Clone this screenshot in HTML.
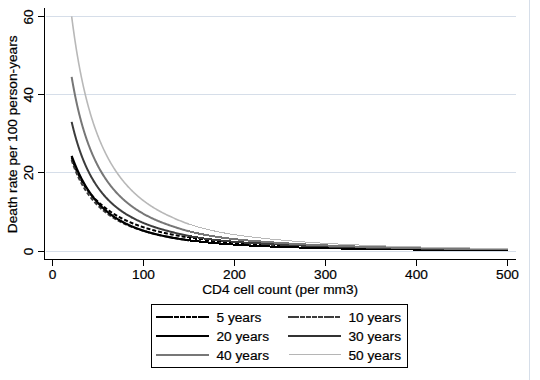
<!DOCTYPE html>
<html><head><meta charset="utf-8">
<style>
html,body{margin:0;padding:0;background:#fff;}
body{width:540px;height:380px;overflow:hidden;position:relative;}
svg{position:absolute;left:0;top:0;}
text{font-family:"Liberation Sans",sans-serif;font-size:13.7px;fill:#000;stroke:#000;stroke-width:0.2px;}
</style></head><body>
<svg width="540" height="380" viewBox="0 0 540 380">
<rect x="0" y="0" width="540" height="380" fill="#ffffff"/>
<!-- right border line -->
<rect x="529" y="0" width="1" height="380" fill="#d6dee9"/>
<!-- gridlines -->
<g fill="#d6dee9">
<rect x="46" y="16" width="470" height="1"/>
<rect x="46" y="94" width="470" height="1"/>
<rect x="46" y="172" width="470" height="1"/>
<rect x="46" y="251" width="470" height="1"/>
</g>
<!-- curves -->
<g shape-rendering="auto">
<path d="M70.70,157.66 L70.82,158.04 L70.95,158.42 L71.07,158.81 L71.20,159.19 L71.32,159.57 L71.45,159.95 L71.58,160.34 L71.71,160.72 L71.84,161.10 L71.97,161.48 L73.86,160.83 L73.73,160.45 L73.60,160.07 L73.47,159.70 L73.35,159.32 L73.22,158.94 L73.10,158.57 L72.97,158.19 L72.85,157.81 L72.73,157.43 L72.61,157.05Z M72.64,163.38 L72.78,163.76 L72.92,164.14 L73.06,164.51 L73.20,164.89 L73.34,165.27 L73.48,165.64 L73.63,166.02 L73.77,166.40 L73.92,166.77 L74.07,167.15 L75.93,166.41 L75.78,166.04 L75.64,165.67 L75.49,165.30 L75.35,164.93 L75.21,164.56 L75.07,164.19 L74.93,163.82 L74.79,163.44 L74.66,163.07 L74.52,162.70Z M74.83,169.02 L74.98,169.39 L75.14,169.76 L75.29,170.13 L75.45,170.50 L75.61,170.87 L75.77,171.24 L75.94,171.61 L76.10,171.98 L76.26,172.35 L76.43,172.71 L78.25,171.89 L78.09,171.53 L77.93,171.16 L77.77,170.80 L77.61,170.44 L77.45,170.08 L77.29,169.71 L77.13,169.35 L76.98,168.98 L76.82,168.62 L76.67,168.25Z M77.28,174.55 L77.45,174.91 L77.63,175.27 L77.81,175.64 L77.98,176.00 L78.16,176.36 L78.34,176.72 L78.52,177.08 L78.71,177.44 L78.89,177.80 L79.08,178.16 L80.85,177.24 L80.67,176.88 L80.49,176.53 L80.31,176.18 L80.13,175.82 L79.95,175.47 L79.78,175.11 L79.60,174.76 L79.43,174.40 L79.26,174.04 L79.09,173.68Z M80.03,179.94 L80.22,180.29 L80.42,180.65 L80.61,181.00 L80.81,181.35 L81.01,181.70 L81.21,182.06 L81.41,182.40 L81.62,182.75 L81.82,183.10 L82.03,183.45 L83.75,182.43 L83.54,182.08 L83.34,181.74 L83.14,181.40 L82.94,181.06 L82.75,180.71 L82.55,180.37 L82.36,180.02 L82.16,179.68 L81.97,179.33 L81.78,178.98Z M83.08,185.18 L83.30,185.52 L83.51,185.86 L83.73,186.20 L83.95,186.54 L84.17,186.88 L84.39,187.21 L84.61,187.55 L84.84,187.89 L85.06,188.22 L85.29,188.55 L86.94,187.43 L86.72,187.10 L86.50,186.77 L86.28,186.44 L86.06,186.11 L85.84,185.78 L85.63,185.45 L85.41,185.12 L85.20,184.78 L84.99,184.45 L84.78,184.11Z M86.45,190.21 L86.69,190.54 L86.93,190.87 L87.16,191.19 L87.41,191.52 L87.65,191.84 L87.89,192.17 L88.14,192.49 L88.39,192.81 L88.63,193.13 L88.88,193.44 L90.46,192.21 L90.21,191.89 L89.97,191.58 L89.73,191.27 L89.49,190.96 L89.25,190.64 L89.01,190.32 L88.78,190.01 L88.54,189.69 L88.31,189.37 L88.08,189.04Z M90.16,195.02 L90.42,195.33 L90.69,195.64 L90.95,195.94 L91.22,196.25 L91.48,196.56 L91.75,196.86 L92.02,197.16 L92.29,197.46 L92.57,197.76 L92.84,198.06 L94.31,196.70 L94.04,196.41 L93.77,196.12 L93.51,195.82 L93.25,195.53 L92.98,195.23 L92.72,194.94 L92.47,194.64 L92.21,194.34 L91.95,194.04 L91.70,193.73Z M94.24,199.53 L94.52,199.82 L94.81,200.10 L95.09,200.39 L95.38,200.67 L95.67,200.96 L95.96,201.24 L96.25,201.52 L96.54,201.80 L96.84,202.08 L97.13,202.35 L98.50,200.89 L98.21,200.62 L97.92,200.35 L97.63,200.07 L97.35,199.80 L97.07,199.53 L96.78,199.25 L96.50,198.97 L96.22,198.69 L95.94,198.41 L95.67,198.13Z M98.63,203.72 L98.93,203.98 L99.23,204.25 L99.54,204.52 L99.84,204.78 L100.15,205.04 L100.45,205.31 L100.76,205.57 L101.07,205.83 L101.38,206.09 L101.69,206.34 L102.97,204.80 L102.66,204.55 L102.36,204.30 L102.05,204.04 L101.75,203.78 L101.45,203.53 L101.15,203.27 L100.85,203.01 L100.55,202.75 L100.25,202.49 L99.96,202.22Z M103.26,207.62 L103.57,207.87 L103.89,208.12 L104.20,208.37 L104.52,208.62 L104.84,208.86 L105.16,209.11 L105.48,209.36 L105.80,209.60 L106.13,209.84 L106.45,210.08 L107.64,208.48 L107.32,208.24 L107.01,208.00 L106.69,207.76 L106.38,207.52 L106.06,207.28 L105.75,207.04 L105.44,206.79 L105.13,206.55 L104.81,206.30 L104.50,206.05Z M108.09,211.27 L108.42,211.50 L108.75,211.73 L109.08,211.96 L109.41,212.19 L109.75,212.42 L110.08,212.65 L110.42,212.87 L110.75,213.10 L111.09,213.32 L111.43,213.54 L112.52,211.86 L112.19,211.64 L111.86,211.43 L111.53,211.21 L111.20,210.99 L110.87,210.77 L110.54,210.54 L110.22,210.32 L109.89,210.09 L109.57,209.87 L109.24,209.64Z M113.13,214.62 L113.48,214.84 L113.82,215.05 L114.16,215.26 L114.51,215.47 L114.86,215.68 L115.20,215.88 L115.55,216.09 L115.90,216.29 L116.25,216.49 L116.60,216.69 L117.59,214.96 L117.25,214.76 L116.91,214.56 L116.56,214.36 L116.22,214.16 L115.88,213.96 L115.54,213.75 L115.20,213.55 L114.86,213.34 L114.53,213.13 L114.19,212.92Z M118.36,217.68 L118.71,217.88 L119.06,218.07 L119.42,218.26 L119.78,218.45 L120.13,218.64 L120.49,218.83 L120.85,219.01 L121.20,219.20 L121.56,219.38 L121.92,219.56 L122.83,217.78 L122.47,217.60 L122.12,217.42 L121.77,217.24 L121.42,217.06 L121.07,216.87 L120.71,216.68 L120.36,216.50 L120.02,216.31 L119.67,216.12 L119.32,215.93Z M123.73,220.46 L124.09,220.64 L124.46,220.81 L124.82,220.99 L125.18,221.16 L125.55,221.33 L125.91,221.50 L126.28,221.67 L126.65,221.84 L127.01,222.00 L127.38,222.17 L128.20,220.35 L127.84,220.18 L127.48,220.02 L127.12,219.85 L126.75,219.69 L126.40,219.52 L126.04,219.35 L125.68,219.18 L125.32,219.01 L124.96,218.84 L124.60,218.66Z M129.22,222.98 L129.59,223.14 L129.96,223.30 L130.33,223.46 L130.71,223.61 L131.08,223.77 L131.45,223.92 L131.82,224.07 L132.20,224.23 L132.57,224.38 L132.94,224.53 L133.69,222.67 L133.32,222.52 L132.95,222.37 L132.58,222.22 L132.21,222.07 L131.85,221.92 L131.48,221.77 L131.11,221.61 L130.75,221.46 L130.38,221.30 L130.01,221.14Z M134.82,225.26 L135.19,225.41 L135.57,225.55 L135.95,225.69 L136.32,225.83 L136.70,225.97 L137.08,226.11 L137.46,226.25 L137.83,226.39 L138.21,226.52 L138.59,226.66 L139.26,224.78 L138.89,224.64 L138.51,224.51 L138.14,224.37 L137.77,224.23 L137.39,224.10 L137.02,223.96 L136.65,223.82 L136.28,223.68 L135.91,223.54 L135.53,223.39Z M140.49,227.32 L140.87,227.45 L141.25,227.58 L141.63,227.71 L142.01,227.84 L142.40,227.97 L142.78,228.09 L143.16,228.22 L143.54,228.34 L143.92,228.47 L144.31,228.59 L144.92,226.68 L144.54,226.56 L144.16,226.44 L143.78,226.32 L143.40,226.19 L143.02,226.07 L142.65,225.94 L142.27,225.82 L141.89,225.69 L141.52,225.56 L141.14,225.43Z M146.23,229.19 L146.61,229.31 L146.99,229.42 L147.38,229.54 L147.76,229.66 L148.15,229.77 L148.53,229.89 L148.92,230.00 L149.31,230.11 L149.69,230.22 L150.08,230.33 L150.63,228.41 L150.25,228.30 L149.86,228.19 L149.48,228.08 L149.10,227.97 L148.72,227.85 L148.34,227.74 L147.96,227.63 L147.58,227.51 L147.19,227.39 L146.81,227.28Z M152.01,230.88 L152.40,230.99 L152.79,231.09 L153.17,231.20 L153.56,231.30 L153.95,231.41 L154.34,231.51 L154.73,231.61 L155.12,231.71 L155.50,231.82 L155.89,231.92 L156.39,229.98 L156.01,229.88 L155.62,229.78 L155.24,229.68 L154.85,229.58 L154.47,229.47 L154.08,229.37 L153.70,229.27 L153.31,229.16 L152.93,229.06 L152.55,228.95Z M157.84,232.41 L158.23,232.51 L158.62,232.60 L159.01,232.70 L159.40,232.79 L159.79,232.89 L160.18,232.98 L160.57,233.08 L160.96,233.17 L161.35,233.26 L161.74,233.35 L162.20,231.40 L161.81,231.31 L161.42,231.22 L161.03,231.13 L160.65,231.04 L160.26,230.94 L159.87,230.85 L159.48,230.76 L159.10,230.66 L158.71,230.57 L158.32,230.47Z M163.70,233.80 L164.09,233.89 L164.48,233.98 L164.88,234.06 L165.27,234.15 L165.66,234.24 L166.05,234.32 L166.44,234.40 L166.84,234.49 L167.23,234.57 L167.62,234.66 L168.04,232.70 L167.64,232.62 L167.25,232.53 L166.87,232.45 L166.47,232.37 L166.09,232.28 L165.70,232.20 L165.31,232.11 L164.92,232.02 L164.53,231.94 L164.14,231.85Z M169.59,235.06 L169.98,235.14 L170.37,235.22 L170.77,235.30 L171.16,235.38 L171.55,235.46 L171.95,235.54 L172.34,235.62 L172.73,235.69 L173.13,235.77 L173.52,235.85 L173.90,233.88 L173.51,233.81 L173.12,233.73 L172.72,233.65 L172.33,233.58 L171.94,233.50 L171.55,233.42 L171.16,233.34 L170.77,233.26 L170.38,233.18 L169.99,233.10Z M175.49,236.22 L175.88,236.30 L176.28,236.37 L176.67,236.44 L177.07,236.52 L177.46,236.59 L177.85,236.66 L178.25,236.73 L178.64,236.80 L179.04,236.87 L179.43,236.94 L179.78,234.98 L179.39,234.90 L179.00,234.83 L178.61,234.76 L178.21,234.69 L177.82,234.62 L177.43,234.55 L177.04,234.48 L176.64,234.40 L176.25,234.33 L175.86,234.26Z M181.41,237.29 L181.80,237.36 L182.20,237.43 L182.59,237.50 L182.99,237.56 L183.38,237.63 L183.78,237.70 L184.17,237.76 L184.57,237.83 L184.96,237.89 L185.36,237.96 L185.69,235.99 L185.29,235.92 L184.90,235.86 L184.50,235.79 L184.11,235.72 L183.72,235.66 L183.32,235.59 L182.93,235.52 L182.54,235.46 L182.14,235.39 L181.75,235.32Z" fill="#000000" stroke="none"/>
<path d="M187.34,238.28 L187.73,238.35 L188.13,238.41 L188.52,238.47 L188.92,238.53 L189.32,238.60 L189.71,238.66 L190.11,238.72 L190.50,238.78 L190.90,238.84 L191.30,238.90 L191.60,236.93 L191.20,236.87 L190.81,236.81 L190.42,236.74 L190.02,236.68 L189.63,236.62 L189.23,236.56 L188.84,236.50 L188.44,236.43 L188.05,236.37 L187.66,236.31Z M193.28,239.20 L193.67,239.26 L194.07,239.32 L194.47,239.38 L194.86,239.44 L195.26,239.49 L195.66,239.55 L196.05,239.61 L196.45,239.67 L196.85,239.72 L197.24,239.78 L197.52,237.80 L197.13,237.74 L196.73,237.69 L196.34,237.63 L195.94,237.57 L195.55,237.52 L195.15,237.46 L194.76,237.40 L194.36,237.34 L193.97,237.28 L193.57,237.22Z M199.23,240.06 L199.62,240.11 L200.02,240.17 L200.42,240.22 L200.82,240.27 L201.21,240.33 L201.61,240.38 L202.01,240.44 L202.40,240.49 L202.80,240.54 L203.20,240.59 L203.46,238.61 L203.06,238.56 L202.67,238.51 L202.27,238.45 L201.88,238.40 L201.48,238.35 L201.08,238.29 L200.69,238.24 L200.29,238.19 L199.90,238.13 L199.50,238.08Z M205.19,240.85 L205.58,240.90 L205.98,240.95 L206.38,241.00 L206.77,241.05 L207.17,241.10 L207.57,241.15 L207.97,241.20 L208.36,241.25 L208.76,241.30 L209.16,241.35 L209.40,239.36 L209.00,239.31 L208.61,239.26 L208.21,239.22 L207.82,239.17 L207.42,239.12 L207.02,239.07 L206.63,239.02 L206.23,238.97 L205.83,238.92 L205.44,238.87Z M211.15,241.58 L211.55,241.63 L211.95,241.68 L212.34,241.72 L212.74,241.77 L213.14,241.82 L213.54,241.86 L213.94,241.91 L214.33,241.95 L214.73,242.00 L215.13,242.04 L215.35,240.05 L214.95,240.01 L214.56,239.97 L214.16,239.92 L213.76,239.88 L213.37,239.83 L212.97,239.78 L212.57,239.74 L212.18,239.69 L211.78,239.65 L211.38,239.60Z M217.12,242.26 L217.52,242.30 L217.92,242.35 L218.32,242.39 L218.71,242.43 L219.11,242.48 L219.51,242.52 L219.91,242.56 L220.31,242.60 L220.71,242.64 L221.10,242.68 L221.31,240.69 L220.91,240.65 L220.51,240.61 L220.12,240.57 L219.72,240.53 L219.32,240.49 L218.93,240.44 L218.53,240.40 L218.13,240.36 L217.73,240.32 L217.34,240.27Z M223.10,242.88 L223.50,242.92 L223.89,242.96 L224.29,243.00 L224.69,243.04 L225.09,243.08 L225.49,243.12 L225.89,243.16 L226.29,243.19 L226.69,243.23 L227.08,243.27 L227.27,241.28 L226.87,241.24 L226.48,241.20 L226.08,241.16 L225.68,241.13 L225.28,241.09 L224.89,241.05 L224.49,241.01 L224.09,240.97 L223.69,240.93 L223.30,240.89Z M229.08,243.45 L229.48,243.49 L229.88,243.52 L230.28,243.56 L230.68,243.59 L231.07,243.63 L231.47,243.66 L231.87,243.70 L232.27,243.73 L232.67,243.77 L233.07,243.80 L233.24,241.81 L232.84,241.77 L232.44,241.74 L232.04,241.71 L231.65,241.67 L231.25,241.64 L230.85,241.60 L230.45,241.57 L230.05,241.53 L229.66,241.50 L229.26,241.46Z M235.07,243.97 L235.47,244.00 L235.86,244.03 L236.26,244.06 L236.66,244.10 L237.06,244.13 L237.46,244.16 L237.86,244.19 L238.26,244.22 L238.66,244.25 L239.06,244.28 L239.21,242.29 L238.81,242.26 L238.41,242.23 L238.02,242.20 L237.62,242.16 L237.22,242.13 L236.82,242.10 L236.42,242.07 L236.03,242.04 L235.63,242.01 L235.23,241.97Z M241.06,244.43 L241.45,244.46 L241.85,244.49 L242.25,244.52 L242.65,244.55 L243.05,244.58 L243.45,244.61 L243.85,244.64 L244.25,244.66 L244.65,244.69 L245.05,244.72 L245.19,242.73 L244.79,242.70 L244.39,242.67 L243.99,242.64 L243.59,242.61 L243.20,242.58 L242.80,242.55 L242.40,242.53 L242.00,242.50 L241.60,242.47 L241.20,242.44Z M247.05,244.86 L247.44,244.89 L247.84,244.91 L248.24,244.94 L248.64,244.97 L249.04,245.00 L249.44,245.02 L249.84,245.05 L250.24,245.08 L250.64,245.10 L251.04,245.13 L251.17,243.13 L250.77,243.11 L250.37,243.08 L249.97,243.05 L249.58,243.03 L249.18,243.00 L248.78,242.97 L248.38,242.95 L247.98,242.92 L247.58,242.89 L247.18,242.86Z M253.04,245.26 L253.44,245.28 L253.84,245.31 L254.24,245.33 L254.63,245.36 L255.03,245.38 L255.43,245.41 L255.83,245.43 L256.23,245.46 L256.63,245.48 L257.03,245.51 L257.15,243.51 L256.75,243.49 L256.36,243.46 L255.96,243.44 L255.56,243.41 L255.16,243.39 L254.76,243.36 L254.36,243.34 L253.96,243.31 L253.56,243.29 L253.16,243.26Z M259.03,245.63 L259.43,245.65 L259.83,245.67 L260.23,245.70 L260.63,245.72 L261.03,245.74 L261.43,245.77 L261.83,245.79 L262.23,245.81 L262.63,245.84 L263.03,245.86 L263.14,243.86 L262.74,243.84 L262.34,243.82 L261.94,243.79 L261.54,243.77 L261.14,243.75 L260.75,243.72 L260.35,243.70 L259.95,243.68 L259.55,243.65 L259.15,243.63Z M265.02,245.97 L265.42,245.99 L265.82,246.02 L266.22,246.04 L266.62,246.06 L267.02,246.08 L267.42,246.10 L267.82,246.12 L268.22,246.15 L268.62,246.17 L269.02,246.19 L269.13,244.19 L268.73,244.17 L268.33,244.15 L267.93,244.13 L267.53,244.11 L267.13,244.08 L266.73,244.06 L266.33,244.04 L265.93,244.02 L265.53,244.00 L265.14,243.98Z M271.02,246.29 L271.42,246.31 L271.82,246.33 L272.22,246.36 L272.62,246.38 L273.02,246.40 L273.42,246.42 L273.82,246.44 L274.22,246.46 L274.62,246.48 L275.02,246.50 L275.12,244.50 L274.72,244.48 L274.32,244.46 L273.92,244.44 L273.52,244.42 L273.12,244.40 L272.72,244.38 L272.32,244.36 L271.92,244.34 L271.52,244.32 L271.12,244.30Z M277.02,246.59 L277.41,246.61 L277.81,246.63 L278.21,246.65 L278.61,246.67 L279.01,246.69 L279.41,246.71 L279.81,246.73 L280.21,246.75 L280.61,246.76 L281.01,246.78 L281.11,244.79 L280.71,244.77 L280.31,244.75 L279.91,244.73 L279.51,244.71 L279.11,244.69 L278.71,244.67 L278.31,244.65 L277.91,244.63 L277.51,244.62 L277.11,244.60Z M283.01,246.87 L283.41,246.89 L283.81,246.91 L284.21,246.93 L284.61,246.95 L285.01,246.96 L285.41,246.98 L285.81,247.00 L286.21,247.02 L286.61,247.03 L287.01,247.05 L287.10,245.05 L286.70,245.04 L286.30,245.02 L285.90,245.00 L285.50,244.98 L285.10,244.97 L284.70,244.95 L284.30,244.93 L283.90,244.91 L283.50,244.89 L283.10,244.88Z M289.01,247.14 L289.41,247.15 L289.81,247.17 L290.21,247.19 L290.61,247.20 L291.01,247.22 L291.41,247.24 L291.81,247.25 L292.21,247.27 L292.61,247.29 L293.01,247.30 L293.09,245.31 L292.69,245.29 L292.29,245.27 L291.89,245.26 L291.49,245.24 L291.09,245.22 L290.69,245.21 L290.29,245.19 L289.89,245.17 L289.49,245.16 L289.09,245.14Z M295.01,247.38 L295.41,247.40 L295.81,247.42 L296.21,247.43 L296.61,247.45 L297.01,247.46 L297.41,247.48 L297.81,247.49 L298.21,247.51 L298.61,247.52 L299.00,247.54 L299.08,245.54 L298.68,245.53 L298.28,245.51 L297.88,245.49 L297.48,245.48 L297.08,245.46 L296.68,245.45 L296.28,245.43 L295.88,245.42 L295.49,245.40 L295.09,245.39Z M301.00,247.61 L301.40,247.63 L301.80,247.64 L302.20,247.66 L302.60,247.67 L303.00,247.69 L303.40,247.70 L303.80,247.72 L304.20,247.73 L304.60,247.75 L305.00,247.76 L305.07,245.76 L304.68,245.75 L304.28,245.73 L303.88,245.72 L303.48,245.70 L303.08,245.69 L302.68,245.67 L302.28,245.66 L301.88,245.65 L301.48,245.63 L301.08,245.62Z M307.00,247.83 L307.40,247.84 L307.80,247.86 L308.20,247.87 L308.60,247.89 L309.00,247.90 L309.40,247.91 L309.80,247.93 L310.20,247.94 L310.60,247.95 L311.00,247.97 L311.07,245.97 L310.67,245.96 L310.27,245.94 L309.87,245.93 L309.47,245.92 L309.07,245.90 L308.67,245.89 L308.27,245.87 L307.87,245.86 L307.47,245.85 L307.07,245.83Z M313.00,248.03 L313.40,248.05 L313.80,248.06 L314.20,248.07 L314.60,248.09 L315.00,248.10 L315.40,248.11 L315.80,248.13 L316.20,248.14 L316.60,248.15 L317.00,248.16 L317.06,246.16 L316.66,246.15 L316.26,246.14 L315.86,246.13 L315.47,246.11 L315.07,246.10 L314.67,246.09 L314.27,246.07 L313.87,246.06 L313.47,246.05 L313.07,246.04Z M319.00,248.23 L319.40,248.24 L319.80,248.25 L320.20,248.26 L320.60,248.27 L321.00,248.29 L321.40,248.30 L321.80,248.31 L322.20,248.32 L322.60,248.33 L323.00,248.35 L323.06,246.35 L322.66,246.34 L322.26,246.32 L321.86,246.31 L321.46,246.30 L321.06,246.29 L320.66,246.28 L320.26,246.26 L319.86,246.25 L319.46,246.24 L319.06,246.23Z M325.00,248.41 L325.40,248.42 L325.80,248.43 L326.20,248.44 L326.60,248.45 L327.00,248.46 L327.40,248.47 L327.80,248.49 L328.20,248.50 L328.60,248.51 L329.00,248.52 L329.05,246.52 L328.66,246.51 L328.26,246.50 L327.86,246.49 L327.46,246.48 L327.06,246.46 L326.66,246.45 L326.26,246.44 L325.86,246.43 L325.46,246.42 L325.06,246.41Z M331.00,248.58 L331.40,248.59 L331.80,248.60 L332.20,248.61 L332.60,248.62 L333.00,248.63 L333.40,248.64 L333.80,248.65 L334.20,248.66 L334.60,248.67 L335.00,248.68 L335.05,246.68 L334.65,246.67 L334.25,246.66 L333.85,246.65 L333.45,246.64 L333.05,246.63 L332.65,246.62 L332.25,246.61 L331.85,246.60 L331.45,246.59 L331.05,246.58Z M337.00,248.73 L337.40,248.75 L337.80,248.76 L338.20,248.77 L338.60,248.78 L339.00,248.79 L339.40,248.80 L339.80,248.81 L340.20,248.82 L340.60,248.83 L341.00,248.84 L341.05,246.84 L340.65,246.83 L340.25,246.82 L339.85,246.81 L339.45,246.80 L339.05,246.79 L338.65,246.78 L338.25,246.77 L337.85,246.76 L337.45,246.75 L337.05,246.74Z M343.00,248.89 L343.40,248.89 L343.80,248.90 L344.20,248.91 L344.60,248.92 L345.00,248.93 L345.40,248.94 L345.80,248.95 L346.20,248.96 L346.60,248.97 L347.00,248.98 L347.04,246.98 L346.64,246.97 L346.24,246.96 L345.85,246.95 L345.45,246.94 L345.05,246.93 L344.65,246.92 L344.25,246.91 L343.85,246.91 L343.45,246.90 L343.05,246.89Z M349.00,249.03 L349.40,249.04 L349.80,249.05 L350.20,249.05 L350.60,249.06 L351.00,249.07 L351.40,249.08 L351.80,249.09 L352.20,249.10 L352.60,249.11 L353.00,249.12 L353.04,247.12 L352.64,247.11 L352.24,247.10 L351.84,247.09 L351.44,247.08 L351.04,247.07 L350.64,247.06 L350.24,247.06 L349.84,247.05 L349.44,247.04 L349.04,247.03Z M355.00,249.16 L355.40,249.17 L355.80,249.18 L356.20,249.19 L356.60,249.20 L357.00,249.20 L357.40,249.21 L357.80,249.22 L358.20,249.23 L358.60,249.24 L359.00,249.25 L359.04,247.25 L358.64,247.24 L358.24,247.23 L357.84,247.22 L357.44,247.21 L357.04,247.21 L356.64,247.20 L356.24,247.19 L355.84,247.18 L355.44,247.17 L355.04,247.16Z M361.00,249.29 L361.40,249.30 L361.80,249.30 L362.20,249.31 L362.60,249.32 L363.00,249.33 L363.40,249.34 L363.80,249.35 L364.20,249.35 L364.60,249.36 L365.00,249.37 L365.04,247.37 L364.64,247.36 L364.24,247.35 L363.84,247.35 L363.44,247.34 L363.04,247.33 L362.64,247.32 L362.24,247.31 L361.84,247.31 L361.44,247.30 L361.04,247.29Z M367.00,249.41 L367.40,249.42 L367.80,249.42 L368.20,249.43 L368.60,249.44 L369.00,249.45 L369.40,249.45 L369.80,249.46 L370.20,249.47 L370.60,249.48 L371.00,249.48 L371.03,247.48 L370.63,247.48 L370.23,247.47 L369.83,247.46 L369.43,247.45 L369.04,247.45 L368.64,247.44 L368.24,247.43 L367.84,247.42 L367.44,247.42 L367.04,247.41Z M373.00,249.52 L373.40,249.53 L373.80,249.54 L374.20,249.54 L374.60,249.55 L375.00,249.56 L375.40,249.57 L375.80,249.57 L376.20,249.58 L376.60,249.59 L377.00,249.59 L377.03,247.59 L376.63,247.59 L376.23,247.58 L375.83,247.57 L375.43,247.57 L375.03,247.56 L374.63,247.55 L374.23,247.54 L373.83,247.54 L373.43,247.53 L373.03,247.52Z M379.00,249.63 L379.40,249.64 L379.80,249.64 L380.20,249.65 L380.60,249.66 L381.00,249.66 L381.40,249.67 L381.80,249.68 L382.20,249.68 L382.60,249.69 L383.00,249.70 L383.03,247.70 L382.63,247.69 L382.23,247.68 L381.83,247.68 L381.43,247.67 L381.03,247.66 L380.63,247.66 L380.23,247.65 L379.83,247.64 L379.43,247.64 L379.03,247.63Z M385.00,249.73 L385.40,249.74 L385.80,249.74 L386.20,249.75 L386.60,249.76 L387.00,249.76 L387.40,249.77 L387.80,249.78 L388.20,249.78 L388.60,249.79 L389.00,249.80 L389.03,247.80 L388.63,247.79 L388.23,247.78 L387.83,247.78 L387.43,247.77 L387.03,247.76 L386.63,247.76 L386.23,247.75 L385.83,247.74 L385.43,247.74 L385.03,247.73Z M391.00,249.83 L391.40,249.83 L391.80,249.84 L392.20,249.85 L392.60,249.85 L393.00,249.86 L393.40,249.86 L393.80,249.87 L394.20,249.88 L394.60,249.88 L395.00,249.89 L395.03,247.89 L394.63,247.88 L394.23,247.88 L393.83,247.87 L393.43,247.86 L393.03,247.86 L392.63,247.85 L392.23,247.85 L391.83,247.84 L391.43,247.83 L391.03,247.83Z M397.00,249.92 L397.40,249.92 L397.80,249.93 L398.20,249.94 L398.60,249.94 L399.00,249.95 L399.40,249.95 L399.80,249.96 L400.20,249.97 L400.60,249.97 L401.00,249.98 L401.03,247.98 L400.63,247.97 L400.23,247.97 L399.83,247.96 L399.43,247.95 L399.03,247.95 L398.63,247.94 L398.23,247.94 L397.83,247.93 L397.43,247.92 L397.03,247.92Z M403.00,250.01 L403.40,250.01 L403.80,250.02 L404.20,250.02 L404.60,250.03 L405.00,250.03 L405.40,250.04 L405.80,250.04 L406.20,250.05 L406.60,250.06 L407.00,250.06 L407.02,248.06 L406.62,248.06 L406.22,248.05 L405.82,248.04 L405.43,248.04 L405.03,248.03 L404.63,248.03 L404.23,248.02 L403.83,248.02 L403.43,248.01 L403.03,248.01Z M409.00,250.09 L409.40,250.09 L409.80,250.10 L410.20,250.10 L410.60,250.11 L411.00,250.11 L411.40,250.12 L411.80,250.13 L412.20,250.13 L412.60,250.14 L413.00,250.14 L413.02,248.14 L412.62,248.14 L412.22,248.13 L411.82,248.13 L411.42,248.12 L411.02,248.11 L410.62,248.11 L410.22,248.10 L409.82,248.10 L409.42,248.09 L409.02,248.09Z M415.00,250.17 L415.40,250.17 L415.80,250.18 L416.20,250.18 L416.60,250.19 L417.00,250.19 L417.40,250.20 L417.80,250.20 L418.20,250.21 L418.60,250.21 L419.00,250.22 L419.02,248.22 L418.62,248.21 L418.22,248.21 L417.82,248.20 L417.42,248.20 L417.02,248.19 L416.62,248.19 L416.22,248.18 L415.82,248.18 L415.42,248.17 L415.02,248.17Z M421.00,250.24 L421.40,250.25 L421.80,250.25 L422.20,250.26 L422.60,250.26 L423.00,250.26 L423.40,250.27 L423.80,250.27 L424.20,250.28 L424.60,250.28 L425.00,250.29 L425.02,248.29 L424.62,248.28 L424.22,248.28 L423.82,248.27 L423.42,248.27 L423.02,248.27 L422.62,248.26 L422.22,248.26 L421.82,248.25 L421.42,248.25 L421.02,248.24Z M427.00,250.31 L427.40,250.32 L427.80,250.32 L428.20,250.33 L428.60,250.33 L429.00,250.33 L429.40,250.34 L429.80,250.34 L430.20,250.35 L430.60,250.35 L431.00,250.36 L431.02,248.36 L430.62,248.35 L430.22,248.35 L429.82,248.34 L429.42,248.34 L429.02,248.33 L428.62,248.33 L428.22,248.33 L427.82,248.32 L427.42,248.32 L427.02,248.31Z M433.00,250.38 L433.40,250.38 L433.80,250.39 L434.20,250.39 L434.60,250.40 L435.00,250.40 L435.40,250.41 L435.80,250.41 L436.20,250.41 L436.60,250.42 L437.00,250.42 L437.02,248.42 L436.62,248.42 L436.22,248.41 L435.82,248.41 L435.42,248.41 L435.02,248.40 L434.62,248.40 L434.22,248.39 L433.82,248.39 L433.42,248.38 L433.02,248.38Z M439.00,250.44 L439.40,250.45 L439.80,250.45 L440.20,250.46 L440.60,250.46 L441.00,250.46 L441.40,250.47 L441.80,250.47 L442.20,250.48 L442.60,250.48 L443.00,250.48 L443.02,248.48 L442.62,248.48 L442.22,248.48 L441.82,248.47 L441.42,248.47 L441.02,248.46 L440.62,248.46 L440.22,248.46 L439.82,248.45 L439.42,248.45 L439.02,248.44Z M445.00,250.50 L445.40,250.51 L445.80,250.51 L446.20,250.52 L446.60,250.52 L447.00,250.52 L447.40,250.53 L447.80,250.53 L448.20,250.54 L448.60,250.54 L449.00,250.54 L449.02,248.54 L448.62,248.54 L448.22,248.54 L447.82,248.53 L447.42,248.53 L447.02,248.52 L446.62,248.52 L446.22,248.52 L445.82,248.51 L445.42,248.51 L445.02,248.50Z M451.00,250.56 L451.40,250.57 L451.80,250.57 L452.20,250.57 L452.60,250.58 L453.00,250.58 L453.40,250.59 L453.80,250.59 L454.20,250.59 L454.60,250.60 L455.00,250.60 L455.02,248.60 L454.62,248.60 L454.22,248.59 L453.82,248.59 L453.42,248.59 L453.02,248.58 L452.62,248.58 L452.22,248.57 L451.82,248.57 L451.42,248.57 L451.02,248.56Z M457.00,250.62 L457.40,250.62 L457.80,250.63 L458.20,250.63 L458.60,250.63 L459.00,250.64 L459.40,250.64 L459.80,250.64 L460.20,250.65 L460.60,250.65 L461.00,250.65 L461.02,248.65 L460.62,248.65 L460.22,248.65 L459.82,248.64 L459.42,248.64 L459.02,248.64 L458.62,248.63 L458.22,248.63 L457.82,248.63 L457.42,248.62 L457.02,248.62Z M463.00,250.67 L463.40,250.67 L463.80,250.68 L464.20,250.68 L464.60,250.68 L465.00,250.69 L465.40,250.69 L465.80,250.69 L466.20,250.70 L466.60,250.70 L467.00,250.70 L467.02,248.71 L466.62,248.70 L466.22,248.70 L465.82,248.69 L465.42,248.69 L465.02,248.69 L464.62,248.68 L464.22,248.68 L463.82,248.68 L463.42,248.67 L463.02,248.67Z M469.00,250.72 L469.40,250.72 L469.80,250.73 L470.20,250.73 L470.60,250.73 L471.00,250.74 L471.40,250.74 L471.80,250.74 L472.20,250.75 L472.60,250.75 L473.00,250.75 L473.02,248.75 L472.62,248.75 L472.22,248.75 L471.82,248.74 L471.42,248.74 L471.02,248.74 L470.62,248.73 L470.22,248.73 L469.82,248.73 L469.42,248.72 L469.02,248.72Z M475.00,250.77 L475.40,250.77 L475.80,250.78 L476.20,250.78 L476.60,250.78 L477.00,250.79 L477.40,250.79 L477.80,250.79 L478.20,250.79 L478.60,250.80 L479.00,250.80 L479.01,248.80 L478.61,248.80 L478.21,248.79 L477.81,248.79 L477.41,248.79 L477.01,248.79 L476.61,248.78 L476.21,248.78 L475.82,248.78 L475.42,248.77 L475.02,248.77Z M481.00,250.82 L481.40,250.82 L481.80,250.82 L482.20,250.82 L482.60,250.83 L483.00,250.83 L483.40,250.83 L483.80,250.84 L484.20,250.84 L484.60,250.84 L485.00,250.85 L485.01,248.85 L484.61,248.84 L484.21,248.84 L483.81,248.84 L483.41,248.83 L483.01,248.83 L482.61,248.83 L482.21,248.82 L481.81,248.82 L481.41,248.82 L481.01,248.82Z M487.00,250.86 L487.40,250.86 L487.80,250.87 L488.20,250.87 L488.60,250.87 L489.00,250.87 L489.40,250.88 L489.80,250.88 L490.20,250.88 L490.60,250.89 L491.00,250.89 L491.01,248.89 L490.61,248.89 L490.21,248.88 L489.81,248.88 L489.41,248.88 L489.01,248.87 L488.61,248.87 L488.21,248.87 L487.81,248.87 L487.41,248.86 L487.01,248.86Z M493.00,250.90 L493.40,250.90 L493.80,250.91 L494.20,250.91 L494.60,250.91 L495.00,250.92 L495.40,250.92 L495.80,250.92 L496.20,250.92 L496.60,250.93 L497.00,250.93 L497.01,248.93 L496.61,248.93 L496.21,248.92 L495.81,248.92 L495.41,248.92 L495.01,248.92 L494.61,248.91 L494.21,248.91 L493.81,248.91 L493.41,248.90 L493.01,248.90Z M499.00,250.94 L499.40,250.94 L499.80,250.95 L500.20,250.95 L500.60,250.95 L501.00,250.95 L501.40,250.96 L501.80,250.96 L502.20,250.96 L502.60,250.97 L503.00,250.97 L503.01,248.97 L502.61,248.97 L502.21,248.96 L501.81,248.96 L501.41,248.96 L501.01,248.95 L500.61,248.95 L500.21,248.95 L499.81,248.95 L499.41,248.94 L499.01,248.94Z M505.00,250.98 L505.40,250.98 L505.80,250.99 L506.21,250.99 L506.61,250.99 L507.01,250.99 L507.41,251.00 L507.81,251.00 L507.83,249.00 L507.42,249.00 L507.02,248.99 L506.62,248.99 L506.22,248.99 L505.82,248.99 L505.41,248.98 L505.01,248.98Z" fill="#000000" stroke="none" shape-rendering="crispEdges"/>
<path d="M70.71,160.36 L70.83,160.74 L70.96,161.12 L71.09,161.51 L71.21,161.89 L71.34,162.27 L71.47,162.65 L71.60,163.03 L71.74,163.41 L71.87,163.79 L72.00,164.17 L73.89,163.50 L73.76,163.13 L73.63,162.75 L73.50,162.37 L73.37,162.00 L73.24,161.62 L73.11,161.25 L72.98,160.87 L72.86,160.49 L72.73,160.11 L72.61,159.74Z M72.69,166.06 L72.83,166.44 L72.97,166.82 L73.11,167.19 L73.25,167.57 L73.39,167.95 L73.54,168.32 L73.68,168.70 L73.83,169.07 L73.98,169.45 L74.12,169.82 L75.98,169.08 L75.84,168.71 L75.69,168.34 L75.55,167.97 L75.40,167.60 L75.26,167.23 L75.12,166.86 L74.98,166.49 L74.84,166.12 L74.70,165.74 L74.56,165.37Z M74.88,171.69 L75.04,172.06 L75.19,172.43 L75.35,172.80 L75.50,173.17 L75.66,173.54 L75.82,173.91 L75.98,174.28 L76.15,174.65 L76.31,175.02 L76.47,175.39 L78.30,174.57 L78.14,174.21 L77.98,173.84 L77.82,173.48 L77.66,173.12 L77.50,172.75 L77.34,172.39 L77.19,172.02 L77.03,171.66 L76.88,171.29 L76.73,170.92Z M77.31,177.22 L77.48,177.59 L77.65,177.95 L77.83,178.31 L78.00,178.68 L78.18,179.04 L78.35,179.40 L78.53,179.77 L78.71,180.13 L78.89,180.49 L79.07,180.85 L80.86,179.95 L80.68,179.59 L80.50,179.24 L80.32,178.88 L80.15,178.52 L79.98,178.17 L79.80,177.81 L79.63,177.45 L79.46,177.09 L79.29,176.74 L79.12,176.37Z M80.00,182.64 L80.19,183.00 L80.38,183.35 L80.57,183.71 L80.76,184.06 L80.95,184.42 L81.15,184.77 L81.35,185.12 L81.54,185.47 L81.74,185.82 L81.94,186.17 L83.68,185.18 L83.48,184.84 L83.29,184.49 L83.09,184.14 L82.90,183.80 L82.71,183.45 L82.52,183.10 L82.33,182.76 L82.14,182.41 L81.95,182.06 L81.77,181.71Z M82.97,187.92 L83.17,188.26 L83.38,188.61 L83.59,188.95 L83.81,189.30 L84.02,189.64 L84.23,189.98 L84.45,190.32 L84.67,190.66 L84.89,191.00 L85.11,191.34 L86.78,190.25 L86.57,189.91 L86.35,189.58 L86.14,189.25 L85.93,188.91 L85.71,188.58 L85.51,188.24 L85.30,187.90 L85.09,187.57 L84.88,187.23 L84.68,186.89Z M86.23,193.02 L86.46,193.35 L86.69,193.69 L86.92,194.02 L87.15,194.35 L87.39,194.68 L87.62,195.01 L87.86,195.33 L88.10,195.66 L88.34,195.98 L88.58,196.31 L90.18,195.11 L89.95,194.79 L89.71,194.48 L89.48,194.16 L89.25,193.83 L89.02,193.51 L88.79,193.19 L88.56,192.87 L88.33,192.54 L88.11,192.22 L87.88,191.89Z M89.81,197.92 L90.06,198.23 L90.31,198.55 L90.56,198.86 L90.82,199.18 L91.07,199.49 L91.33,199.81 L91.59,200.12 L91.85,200.43 L92.11,200.74 L92.37,201.04 L93.89,199.74 L93.63,199.44 L93.38,199.14 L93.12,198.84 L92.87,198.53 L92.62,198.23 L92.37,197.92 L92.12,197.61 L91.87,197.30 L91.63,196.99 L91.38,196.68Z M93.71,202.57 L93.97,202.87 L94.25,203.16 L94.52,203.46 L94.80,203.76 L95.07,204.06 L95.35,204.35 L95.63,204.64 L95.91,204.93 L96.19,205.22 L96.47,205.51 L97.90,204.11 L97.62,203.83 L97.35,203.54 L97.07,203.26 L96.80,202.97 L96.53,202.69 L96.26,202.40 L95.99,202.11 L95.72,201.82 L95.46,201.52 L95.19,201.23Z M97.91,206.94 L98.20,207.22 L98.50,207.50 L98.79,207.78 L99.08,208.05 L99.38,208.33 L99.68,208.60 L99.98,208.88 L100.28,209.15 L100.58,209.42 L100.88,209.68 L102.21,208.19 L101.91,207.92 L101.62,207.66 L101.32,207.39 L101.03,207.13 L100.74,206.86 L100.45,206.59 L100.16,206.32 L99.87,206.05 L99.59,205.78 L99.30,205.50Z M102.42,211.01 L102.73,211.27 L103.04,211.52 L103.35,211.78 L103.66,212.04 L103.98,212.29 L104.29,212.54 L104.61,212.80 L104.93,213.04 L105.25,213.29 L105.57,213.54 L106.79,211.95 L106.47,211.71 L106.16,211.47 L105.85,211.22 L105.54,210.98 L105.23,210.73 L104.92,210.48 L104.62,210.23 L104.31,209.98 L104.01,209.73 L103.70,209.47Z M107.19,214.75 L107.52,214.99 L107.84,215.23 L108.17,215.46 L108.50,215.69 L108.83,215.93 L109.17,216.16 L109.50,216.39 L109.83,216.61 L110.17,216.84 L110.50,217.06 L111.61,215.40 L111.28,215.18 L110.96,214.96 L110.63,214.74 L110.30,214.51 L109.98,214.29 L109.65,214.06 L109.33,213.83 L109.01,213.60 L108.69,213.37 L108.37,213.14Z M112.20,218.17 L112.54,218.38 L112.88,218.60 L113.23,218.81 L113.57,219.02 L113.92,219.23 L114.26,219.44 L114.61,219.65 L114.96,219.85 L115.31,220.06 L115.65,220.26 L116.66,218.53 L116.31,218.33 L115.97,218.13 L115.63,217.93 L115.29,217.73 L114.95,217.52 L114.62,217.32 L114.28,217.11 L113.94,216.90 L113.61,216.69 L113.27,216.48Z M117.41,221.26 L117.77,221.45 L118.12,221.65 L118.48,221.84 L118.83,222.03 L119.19,222.22 L119.54,222.41 L119.90,222.59 L120.26,222.78 L120.62,222.96 L120.98,223.14 L121.88,221.36 L121.53,221.18 L121.18,221.00 L120.82,220.82 L120.47,220.63 L120.12,220.45 L119.77,220.26 L119.42,220.08 L119.07,219.89 L118.73,219.70 L118.38,219.51Z M122.79,224.04 L123.15,224.21 L123.52,224.39 L123.88,224.56 L124.25,224.73 L124.61,224.90 L124.98,225.07 L125.35,225.24 L125.71,225.40 L126.08,225.57 L126.45,225.73 L127.26,223.90 L126.90,223.74 L126.54,223.58 L126.17,223.41 L125.81,223.25 L125.45,223.08 L125.09,222.92 L124.73,222.75 L124.37,222.58 L124.02,222.41 L123.66,222.24Z M128.30,226.53 L128.67,226.69 L129.05,226.84 L129.42,227.00 L129.79,227.15 L130.16,227.30 L130.54,227.45 L130.91,227.60 L131.29,227.75 L131.66,227.90 L132.03,228.04 L132.76,226.18 L132.39,226.04 L132.02,225.89 L131.65,225.74 L131.28,225.60 L130.91,225.45 L130.55,225.30 L130.18,225.15 L129.81,225.00 L129.45,224.84 L129.08,224.69Z M133.92,228.76 L134.30,228.90 L134.68,229.04 L135.05,229.18 L135.43,229.31 L135.81,229.45 L136.19,229.58 L136.57,229.72 L136.95,229.85 L137.33,229.98 L137.71,230.11 L138.36,228.22 L137.98,228.09 L137.61,227.96 L137.23,227.83 L136.86,227.70 L136.48,227.56 L136.11,227.43 L135.74,227.30 L135.36,227.16 L134.99,227.02 L134.62,226.88Z M139.62,230.75 L140.00,230.88 L140.39,231.00 L140.77,231.12 L141.15,231.25 L141.54,231.37 L141.92,231.49 L142.30,231.61 L142.69,231.72 L143.07,231.84 L143.46,231.96 L144.04,230.05 L143.66,229.93 L143.28,229.81 L142.90,229.70 L142.52,229.58 L142.14,229.46 L141.76,229.34 L141.38,229.22 L141.00,229.10 L140.62,228.97 L140.24,228.85Z M145.39,232.53 L145.77,232.64 L146.16,232.75 L146.55,232.86 L146.93,232.97 L147.32,233.08 L147.71,233.19 L148.09,233.30 L148.48,233.40 L148.87,233.51 L149.26,233.61 L149.78,231.68 L149.39,231.58 L149.01,231.47 L148.62,231.37 L148.24,231.26 L147.86,231.15 L147.47,231.05 L147.09,230.94 L146.71,230.83 L146.33,230.72 L145.94,230.61Z M151.20,234.12 L151.59,234.22 L151.98,234.32 L152.37,234.42 L152.76,234.52 L153.15,234.62 L153.54,234.71 L153.93,234.81 L154.32,234.90 L154.71,235.00 L155.10,235.09 L155.57,233.15 L155.18,233.05 L154.79,232.96 L154.40,232.87 L154.02,232.77 L153.63,232.68 L153.24,232.58 L152.86,232.48 L152.47,232.38 L152.09,232.29 L151.70,232.19Z M157.06,235.55 L157.45,235.64 L157.84,235.73 L158.23,235.82 L158.62,235.91 L159.01,235.99 L159.41,236.08 L159.80,236.17 L160.19,236.25 L160.58,236.34 L160.98,236.42 L161.40,234.46 L161.00,234.38 L160.62,234.30 L160.23,234.21 L159.84,234.13 L159.45,234.04 L159.06,233.95 L158.67,233.87 L158.28,233.78 L157.89,233.69 L157.50,233.60Z M162.94,236.83 L163.33,236.91 L163.73,236.99 L164.12,237.07 L164.51,237.15 L164.91,237.23 L165.30,237.31 L165.70,237.39 L166.09,237.46 L166.48,237.54 L166.88,237.61 L167.26,235.65 L166.86,235.57 L166.47,235.50 L166.08,235.42 L165.69,235.35 L165.30,235.27 L164.91,235.19 L164.52,235.11 L164.13,235.03 L163.74,234.95 L163.35,234.87Z M168.85,237.99 L169.24,238.06 L169.64,238.13 L170.03,238.20 L170.43,238.27 L170.82,238.34 L171.22,238.41 L171.61,238.48 L172.01,238.55 L172.40,238.62 L172.80,238.69 L173.14,236.72 L172.75,236.65 L172.35,236.58 L171.96,236.51 L171.57,236.44 L171.18,236.37 L170.78,236.30 L170.39,236.23 L170.00,236.16 L169.61,236.09 L169.21,236.02Z M174.78,239.03 L175.17,239.09 L175.57,239.16 L175.96,239.22 L176.36,239.29 L176.76,239.35 L177.15,239.41 L177.55,239.48 L177.94,239.54 L178.34,239.60 L178.74,239.66 L179.04,237.69 L178.65,237.63 L178.26,237.56 L177.86,237.50 L177.47,237.44 L177.07,237.37 L176.68,237.31 L176.29,237.25 L175.89,237.18 L175.50,237.12 L175.10,237.05Z M180.72,239.97 L181.12,240.03 L181.51,240.08 L181.91,240.14 L182.31,240.20 L182.70,240.26 L183.10,240.32 L183.50,240.37 L183.89,240.43 L184.29,240.49 L184.69,240.54 L184.96,238.56 L184.57,238.51 L184.18,238.45 L183.78,238.39 L183.38,238.34 L182.99,238.28 L182.59,238.22 L182.20,238.17 L181.81,238.11 L181.41,238.05 L181.01,237.99Z" fill="#3a3a3a" stroke="none"/>
<path d="M186.67,240.82 L187.07,240.87 L187.47,240.93 L187.86,240.98 L188.26,241.03 L188.66,241.09 L189.06,241.14 L189.45,241.19 L189.85,241.24 L190.25,241.29 L190.65,241.34 L190.90,239.36 L190.50,239.31 L190.11,239.26 L189.71,239.21 L189.32,239.15 L188.92,239.10 L188.52,239.05 L188.13,239.00 L187.73,238.94 L187.34,238.89 L186.94,238.84Z M192.63,241.59 L193.03,241.64 L193.43,241.69 L193.83,241.74 L194.22,241.79 L194.62,241.84 L195.02,241.88 L195.42,241.93 L195.82,241.98 L196.22,242.02 L196.61,242.07 L196.84,240.08 L196.45,240.04 L196.05,239.99 L195.65,239.94 L195.26,239.90 L194.86,239.85 L194.46,239.80 L194.07,239.75 L193.67,239.71 L193.28,239.66 L192.88,239.61Z M198.60,242.30 L199.00,242.34 L199.40,242.39 L199.80,242.43 L200.20,242.48 L200.59,242.52 L200.99,242.56 L201.39,242.61 L201.79,242.65 L202.19,242.69 L202.59,242.73 L202.80,240.75 L202.40,240.70 L202.00,240.66 L201.61,240.62 L201.21,240.57 L200.81,240.53 L200.41,240.49 L200.02,240.44 L199.62,240.40 L199.22,240.36 L198.83,240.31Z M204.58,242.94 L204.98,242.98 L205.38,243.02 L205.77,243.06 L206.17,243.10 L206.57,243.14 L206.97,243.18 L207.37,243.22 L207.77,243.26 L208.17,243.30 L208.56,243.34 L208.76,241.35 L208.36,241.31 L207.96,241.27 L207.56,241.23 L207.17,241.19 L206.77,241.15 L206.37,241.11 L205.98,241.07 L205.58,241.03 L205.18,240.99 L204.78,240.95Z M210.56,243.53 L210.96,243.57 L211.36,243.60 L211.75,243.64 L212.15,243.68 L212.55,243.72 L212.95,243.75 L213.35,243.79 L213.75,243.82 L214.15,243.86 L214.55,243.89 L214.72,241.90 L214.33,241.87 L213.93,241.83 L213.53,241.80 L213.13,241.76 L212.73,241.72 L212.34,241.69 L211.94,241.65 L211.54,241.61 L211.14,241.58 L210.75,241.54Z M216.54,244.07 L216.94,244.10 L217.34,244.14 L217.74,244.17 L218.14,244.21 L218.54,244.24 L218.94,244.27 L219.34,244.31 L219.73,244.34 L220.13,244.37 L220.53,244.40 L220.69,242.41 L220.30,242.38 L219.90,242.35 L219.50,242.31 L219.10,242.28 L218.70,242.25 L218.31,242.21 L217.91,242.18 L217.51,242.14 L217.11,242.11 L216.71,242.08Z M222.53,244.56 L222.93,244.60 L223.33,244.63 L223.73,244.66 L224.13,244.69 L224.52,244.72 L224.92,244.75 L225.32,244.78 L225.72,244.81 L226.12,244.84 L226.52,244.87 L226.67,242.88 L226.27,242.85 L225.87,242.82 L225.47,242.79 L225.08,242.76 L224.68,242.73 L224.28,242.70 L223.88,242.66 L223.48,242.63 L223.08,242.60 L222.69,242.57Z M228.52,245.02 L228.92,245.05 L229.32,245.08 L229.72,245.11 L230.11,245.13 L230.51,245.16 L230.91,245.19 L231.31,245.22 L231.71,245.25 L232.11,245.27 L232.51,245.30 L232.65,243.31 L232.25,243.28 L231.85,243.25 L231.45,243.22 L231.05,243.20 L230.66,243.17 L230.26,243.14 L229.86,243.11 L229.46,243.08 L229.06,243.05 L228.66,243.02Z M234.51,245.44 L234.91,245.47 L235.31,245.49 L235.71,245.52 L236.11,245.54 L236.51,245.57 L236.91,245.60 L237.30,245.62 L237.70,245.65 L238.10,245.67 L238.50,245.70 L238.63,243.70 L238.23,243.68 L237.83,243.65 L237.43,243.63 L237.03,243.60 L236.64,243.58 L236.24,243.55 L235.84,243.52 L235.44,243.50 L235.04,243.47 L234.64,243.44Z M240.50,245.83 L240.90,245.85 L241.30,245.87 L241.70,245.90 L242.10,245.92 L242.50,245.95 L242.90,245.97 L243.30,246.00 L243.70,246.02 L244.10,246.04 L244.50,246.07 L244.61,244.07 L244.22,244.05 L243.82,244.02 L243.42,244.00 L243.02,243.98 L242.62,243.95 L242.22,243.93 L241.82,243.90 L241.42,243.88 L241.02,243.85 L240.62,243.83Z M246.49,246.18 L246.89,246.21 L247.29,246.23 L247.69,246.25 L248.09,246.27 L248.49,246.30 L248.89,246.32 L249.29,246.34 L249.69,246.36 L250.09,246.38 L250.49,246.41 L250.60,244.41 L250.20,244.39 L249.80,244.37 L249.40,244.34 L249.00,244.32 L248.60,244.30 L248.21,244.28 L247.81,244.25 L247.41,244.23 L247.01,244.21 L246.61,244.19Z M252.49,246.51 L252.89,246.54 L253.29,246.56 L253.69,246.58 L254.09,246.60 L254.49,246.62 L254.89,246.64 L255.29,246.66 L255.69,246.68 L256.09,246.70 L256.49,246.72 L256.59,244.72 L256.19,244.70 L255.79,244.68 L255.39,244.66 L254.99,244.64 L254.59,244.62 L254.19,244.60 L253.79,244.58 L253.39,244.56 L253.00,244.54 L252.60,244.52Z M258.49,246.82 L258.89,246.84 L259.29,246.86 L259.69,246.88 L260.09,246.90 L260.48,246.92 L260.88,246.94 L261.28,246.96 L261.68,246.98 L262.08,247.00 L262.48,247.01 L262.58,245.02 L262.18,245.00 L261.78,244.98 L261.38,244.96 L260.98,244.94 L260.58,244.92 L260.18,244.90 L259.78,244.88 L259.38,244.86 L258.98,244.84 L258.58,244.82Z M264.48,247.11 L264.88,247.12 L265.28,247.14 L265.68,247.16 L266.08,247.18 L266.48,247.20 L266.88,247.22 L267.28,247.23 L267.68,247.25 L268.08,247.27 L268.48,247.29 L268.57,245.29 L268.17,245.27 L267.77,245.25 L267.37,245.23 L266.97,245.22 L266.57,245.20 L266.17,245.18 L265.77,245.16 L265.37,245.15 L264.97,245.13 L264.57,245.11Z M270.48,247.37 L270.88,247.39 L271.28,247.41 L271.68,247.42 L272.08,247.44 L272.48,247.46 L272.88,247.47 L273.28,247.49 L273.68,247.51 L274.08,247.52 L274.48,247.54 L274.56,245.54 L274.16,245.52 L273.76,245.51 L273.36,245.49 L272.96,245.47 L272.56,245.46 L272.16,245.44 L271.76,245.42 L271.36,245.41 L270.96,245.39 L270.57,245.37Z M276.48,247.62 L276.88,247.63 L277.28,247.65 L277.68,247.67 L278.08,247.68 L278.48,247.70 L278.88,247.71 L279.28,247.73 L279.68,247.74 L280.08,247.76 L280.48,247.77 L280.55,245.78 L280.15,245.76 L279.75,245.74 L279.35,245.73 L278.95,245.71 L278.55,245.70 L278.16,245.68 L277.76,245.67 L277.36,245.65 L276.96,245.64 L276.56,245.62Z M282.48,247.85 L282.88,247.86 L283.28,247.88 L283.68,247.89 L284.08,247.91 L284.48,247.92 L284.88,247.94 L285.28,247.95 L285.68,247.97 L286.08,247.98 L286.47,247.99 L286.55,245.99 L286.15,245.98 L285.75,245.97 L285.35,245.95 L284.95,245.94 L284.55,245.92 L284.15,245.91 L283.75,245.89 L283.35,245.88 L282.95,245.86 L282.55,245.85Z M288.47,248.06 L288.87,248.08 L289.27,248.09 L289.67,248.10 L290.07,248.12 L290.47,248.13 L290.87,248.15 L291.27,248.16 L291.67,248.17 L292.07,248.19 L292.47,248.20 L292.54,246.20 L292.14,246.19 L291.74,246.17 L291.34,246.16 L290.94,246.15 L290.54,246.13 L290.14,246.12 L289.74,246.11 L289.34,246.09 L288.94,246.08 L288.54,246.06Z M294.47,248.26 L294.87,248.28 L295.27,248.29 L295.67,248.30 L296.07,248.32 L296.47,248.33 L296.87,248.34 L297.27,248.35 L297.67,248.37 L298.07,248.38 L298.47,248.39 L298.53,246.39 L298.14,246.38 L297.74,246.37 L297.34,246.35 L296.94,246.34 L296.54,246.33 L296.14,246.32 L295.74,246.30 L295.34,246.29 L294.94,246.28 L294.54,246.27Z M300.47,248.45 L300.87,248.46 L301.27,248.48 L301.67,248.49 L302.07,248.50 L302.47,248.51 L302.87,248.52 L303.27,248.54 L303.67,248.55 L304.07,248.56 L304.47,248.57 L304.53,246.57 L304.13,246.56 L303.73,246.55 L303.33,246.54 L302.93,246.52 L302.53,246.51 L302.13,246.50 L301.73,246.49 L301.33,246.48 L300.93,246.46 L300.53,246.45Z M306.47,248.63 L306.87,248.64 L307.27,248.65 L307.67,248.66 L308.07,248.67 L308.47,248.68 L308.87,248.69 L309.27,248.71 L309.67,248.72 L310.07,248.73 L310.47,248.74 L310.53,246.74 L310.13,246.73 L309.73,246.72 L309.33,246.71 L308.93,246.70 L308.53,246.68 L308.13,246.67 L307.73,246.66 L307.33,246.65 L306.93,246.64 L306.53,246.63Z M312.47,248.79 L312.87,248.80 L313.27,248.81 L313.67,248.82 L314.07,248.83 L314.47,248.85 L314.87,248.86 L315.27,248.87 L315.67,248.88 L316.07,248.89 L316.47,248.90 L316.52,246.90 L316.12,246.89 L315.72,246.88 L315.32,246.87 L314.92,246.86 L314.52,246.85 L314.12,246.84 L313.72,246.82 L313.32,246.81 L312.92,246.80 L312.52,246.79Z M318.47,248.95 L318.87,248.96 L319.27,248.97 L319.67,248.98 L320.07,248.99 L320.47,249.00 L320.87,249.01 L321.27,249.02 L321.67,249.03 L322.07,249.04 L322.47,249.04 L322.52,247.05 L322.12,247.04 L321.72,247.03 L321.32,247.02 L320.92,247.01 L320.52,247.00 L320.12,246.99 L319.72,246.98 L319.32,246.97 L318.92,246.96 L318.52,246.95Z M324.47,249.09 L324.87,249.10 L325.27,249.11 L325.67,249.12 L326.07,249.13 L326.47,249.14 L326.87,249.15 L327.27,249.16 L327.67,249.17 L328.07,249.18 L328.47,249.18 L328.52,247.18 L328.12,247.18 L327.72,247.17 L327.32,247.16 L326.92,247.15 L326.52,247.14 L326.12,247.13 L325.72,247.12 L325.32,247.11 L324.92,247.10 L324.52,247.09Z M330.47,249.23 L330.87,249.24 L331.27,249.25 L331.67,249.26 L332.07,249.26 L332.47,249.27 L332.87,249.28 L333.27,249.29 L333.67,249.30 L334.07,249.31 L334.47,249.32 L334.51,247.32 L334.11,247.31 L333.71,247.30 L333.31,247.29 L332.91,247.28 L332.51,247.27 L332.11,247.26 L331.71,247.26 L331.31,247.25 L330.91,247.24 L330.51,247.23Z M336.47,249.36 L336.87,249.37 L337.27,249.37 L337.67,249.38 L338.07,249.39 L338.47,249.40 L338.87,249.41 L339.27,249.41 L339.67,249.42 L340.07,249.43 L340.47,249.44 L340.51,247.44 L340.11,247.43 L339.71,247.42 L339.31,247.42 L338.91,247.41 L338.51,247.40 L338.11,247.39 L337.71,247.38 L337.31,247.37 L336.91,247.37 L336.51,247.36Z M342.47,249.48 L342.87,249.49 L343.27,249.49 L343.67,249.50 L344.07,249.51 L344.47,249.52 L344.87,249.52 L345.27,249.53 L345.67,249.54 L346.07,249.55 L346.47,249.56 L346.51,247.56 L346.11,247.55 L345.71,247.54 L345.31,247.53 L344.91,247.53 L344.51,247.52 L344.11,247.51 L343.71,247.50 L343.31,247.49 L342.91,247.49 L342.51,247.48Z M348.47,249.59 L348.87,249.60 L349.27,249.61 L349.67,249.61 L350.07,249.62 L350.47,249.63 L350.87,249.64 L351.27,249.64 L351.67,249.65 L352.07,249.66 L352.47,249.66 L352.51,247.67 L352.11,247.66 L351.71,247.65 L351.31,247.64 L350.91,247.64 L350.51,247.63 L350.11,247.62 L349.71,247.61 L349.31,247.61 L348.91,247.60 L348.51,247.59Z M354.47,249.70 L354.87,249.71 L355.27,249.71 L355.67,249.72 L356.07,249.73 L356.47,249.73 L356.87,249.74 L357.27,249.75 L357.67,249.75 L358.07,249.76 L358.47,249.77 L358.50,247.77 L358.10,247.76 L357.70,247.76 L357.30,247.75 L356.90,247.74 L356.50,247.73 L356.11,247.73 L355.71,247.72 L355.31,247.71 L354.91,247.71 L354.51,247.70Z M360.47,249.80 L360.87,249.81 L361.27,249.81 L361.67,249.82 L362.07,249.83 L362.47,249.83 L362.87,249.84 L363.27,249.85 L363.67,249.85 L364.07,249.86 L364.47,249.87 L364.50,247.87 L364.10,247.86 L363.70,247.85 L363.30,247.85 L362.90,247.84 L362.50,247.83 L362.10,247.83 L361.70,247.82 L361.30,247.81 L360.90,247.81 L360.50,247.80Z M366.47,249.90 L366.87,249.90 L367.27,249.91 L367.67,249.92 L368.07,249.92 L368.47,249.93 L368.87,249.93 L369.27,249.94 L369.67,249.95 L370.07,249.95 L370.47,249.96 L370.50,247.96 L370.10,247.95 L369.70,247.95 L369.30,247.94 L368.90,247.93 L368.50,247.93 L368.10,247.92 L367.70,247.92 L367.30,247.91 L366.90,247.90 L366.50,247.90Z M372.47,249.99 L372.87,249.99 L373.27,250.00 L373.67,250.01 L374.07,250.01 L374.47,250.02 L374.87,250.02 L375.27,250.03 L375.67,250.03 L376.07,250.04 L376.47,250.05 L376.50,248.05 L376.10,248.04 L375.70,248.03 L375.30,248.03 L374.90,248.02 L374.50,248.02 L374.10,248.01 L373.70,248.01 L373.30,248.00 L372.90,247.99 L372.50,247.99Z M378.47,250.07 L378.87,250.08 L379.27,250.08 L379.67,250.09 L380.07,250.10 L380.47,250.10 L380.87,250.11 L381.27,250.11 L381.67,250.12 L382.07,250.12 L382.47,250.13 L382.50,248.13 L382.10,248.12 L381.70,248.12 L381.30,248.11 L380.90,248.11 L380.50,248.10 L380.10,248.10 L379.70,248.09 L379.30,248.09 L378.90,248.08 L378.50,248.07Z M384.47,250.16 L384.87,250.16 L385.27,250.17 L385.67,250.17 L386.07,250.18 L386.47,250.18 L386.87,250.19 L387.27,250.19 L387.67,250.20 L388.07,250.20 L388.47,250.21 L388.50,248.21 L388.10,248.20 L387.70,248.20 L387.30,248.19 L386.90,248.19 L386.50,248.18 L386.10,248.18 L385.70,248.17 L385.30,248.17 L384.90,248.16 L384.50,248.16Z M390.47,250.23 L390.87,250.24 L391.27,250.24 L391.67,250.25 L392.07,250.25 L392.47,250.26 L392.87,250.26 L393.27,250.27 L393.67,250.27 L394.07,250.28 L394.47,250.28 L394.50,248.28 L394.10,248.28 L393.70,248.27 L393.30,248.27 L392.90,248.26 L392.50,248.26 L392.10,248.25 L391.70,248.25 L391.30,248.24 L390.90,248.24 L390.50,248.23Z M396.47,250.30 L396.87,250.31 L397.27,250.31 L397.67,250.32 L398.07,250.32 L398.47,250.33 L398.87,250.33 L399.27,250.34 L399.67,250.34 L400.07,250.35 L400.47,250.35 L400.49,248.35 L400.09,248.35 L399.70,248.34 L399.30,248.34 L398.90,248.33 L398.50,248.33 L398.10,248.32 L397.70,248.32 L397.30,248.31 L396.90,248.31 L396.50,248.31Z M402.47,250.37 L402.87,250.38 L403.27,250.38 L403.67,250.39 L404.07,250.39 L404.47,250.40 L404.87,250.40 L405.27,250.41 L405.67,250.41 L406.07,250.41 L406.47,250.42 L406.49,248.42 L406.09,248.41 L405.69,248.41 L405.29,248.41 L404.89,248.40 L404.49,248.40 L404.09,248.39 L403.69,248.39 L403.29,248.38 L402.89,248.38 L402.49,248.37Z M408.47,250.44 L408.87,250.44 L409.27,250.45 L409.67,250.45 L410.07,250.46 L410.47,250.46 L410.87,250.47 L411.27,250.47 L411.67,250.47 L412.07,250.48 L412.47,250.48 L412.49,248.48 L412.09,248.48 L411.69,248.47 L411.29,248.47 L410.89,248.47 L410.49,248.46 L410.09,248.46 L409.69,248.45 L409.29,248.45 L408.89,248.44 L408.49,248.44Z M414.47,250.50 L414.87,250.51 L415.27,250.51 L415.67,250.51 L416.07,250.52 L416.47,250.52 L416.87,250.53 L417.27,250.53 L417.67,250.53 L418.07,250.54 L418.47,250.54 L418.49,248.54 L418.09,248.54 L417.69,248.53 L417.29,248.53 L416.89,248.53 L416.49,248.52 L416.09,248.52 L415.69,248.51 L415.29,248.51 L414.89,248.51 L414.49,248.50Z M420.47,250.56 L420.87,250.57 L421.27,250.57 L421.67,250.57 L422.07,250.58 L422.47,250.58 L422.87,250.58 L423.27,250.59 L423.67,250.59 L424.07,250.60 L424.47,250.60 L424.49,248.60 L424.09,248.60 L423.69,248.59 L423.29,248.59 L422.89,248.58 L422.49,248.58 L422.09,248.58 L421.69,248.57 L421.29,248.57 L420.89,248.57 L420.49,248.56Z M426.47,250.62 L426.87,250.62 L427.27,250.63 L427.67,250.63 L428.07,250.63 L428.47,250.64 L428.87,250.64 L429.27,250.64 L429.67,250.65 L430.07,250.65 L430.47,250.65 L430.49,248.65 L430.09,248.65 L429.69,248.65 L429.29,248.64 L428.89,248.64 L428.49,248.64 L428.09,248.63 L427.69,248.63 L427.29,248.63 L426.89,248.62 L426.49,248.62Z M432.47,250.67 L432.87,250.67 L433.27,250.68 L433.67,250.68 L434.07,250.69 L434.47,250.69 L434.87,250.69 L435.27,250.70 L435.67,250.70 L436.07,250.70 L436.47,250.71 L436.49,248.71 L436.09,248.70 L435.69,248.70 L435.29,248.70 L434.89,248.69 L434.49,248.69 L434.09,248.69 L433.69,248.68 L433.29,248.68 L432.89,248.68 L432.49,248.67Z M438.47,250.72 L438.87,250.73 L439.27,250.73 L439.67,250.73 L440.07,250.74 L440.47,250.74 L440.87,250.74 L441.27,250.75 L441.67,250.75 L442.07,250.75 L442.47,250.76 L442.49,248.76 L442.09,248.75 L441.69,248.75 L441.29,248.75 L440.89,248.74 L440.49,248.74 L440.09,248.74 L439.69,248.73 L439.29,248.73 L438.89,248.73 L438.49,248.72Z M444.47,250.77 L444.87,250.77 L445.27,250.78 L445.67,250.78 L446.07,250.78 L446.47,250.79 L446.87,250.79 L447.27,250.79 L447.67,250.80 L448.07,250.80 L448.47,250.80 L448.49,248.80 L448.09,248.80 L447.69,248.80 L447.29,248.79 L446.89,248.79 L446.49,248.79 L446.09,248.78 L445.69,248.78 L445.29,248.78 L444.89,248.77 L444.49,248.77Z M450.47,250.82 L450.87,250.82 L451.27,250.82 L451.67,250.83 L452.07,250.83 L452.47,250.83 L452.87,250.84 L453.27,250.84 L453.67,250.84 L454.07,250.84 L454.47,250.85 L454.49,248.85 L454.09,248.84 L453.69,248.84 L453.29,248.84 L452.89,248.84 L452.49,248.83 L452.09,248.83 L451.69,248.83 L451.29,248.82 L450.89,248.82 L450.49,248.82Z M456.47,250.86 L456.87,250.86 L457.27,250.87 L457.67,250.87 L458.07,250.87 L458.47,250.88 L458.87,250.88 L459.27,250.88 L459.67,250.88 L460.07,250.89 L460.47,250.89 L460.49,248.89 L460.09,248.89 L459.69,248.88 L459.29,248.88 L458.89,248.88 L458.49,248.88 L458.09,248.87 L457.69,248.87 L457.29,248.87 L456.89,248.86 L456.49,248.86Z M462.47,250.90 L462.87,250.91 L463.27,250.91 L463.67,250.91 L464.07,250.91 L464.47,250.92 L464.87,250.92 L465.27,250.92 L465.67,250.93 L466.07,250.93 L466.47,250.93 L466.49,248.93 L466.09,248.93 L465.69,248.93 L465.29,248.92 L464.89,248.92 L464.49,248.92 L464.09,248.91 L463.69,248.91 L463.29,248.91 L462.89,248.91 L462.49,248.90Z M468.47,250.94 L468.87,250.95 L469.27,250.95 L469.67,250.95 L470.07,250.95 L470.47,250.96 L470.87,250.96 L471.27,250.96 L471.67,250.96 L472.07,250.97 L472.47,250.97 L472.49,248.97 L472.09,248.97 L471.69,248.96 L471.29,248.96 L470.89,248.96 L470.49,248.96 L470.09,248.95 L469.69,248.95 L469.29,248.95 L468.89,248.95 L468.49,248.94Z M474.47,250.98 L474.87,250.98 L475.27,250.99 L475.67,250.99 L476.07,250.99 L476.47,250.99 L476.87,251.00 L477.27,251.00 L477.67,251.00 L478.07,251.00 L478.47,251.01 L478.49,249.01 L478.09,249.00 L477.69,249.00 L477.29,249.00 L476.89,249.00 L476.49,248.99 L476.09,248.99 L475.69,248.99 L475.29,248.99 L474.89,248.98 L474.49,248.98Z M480.47,251.02 L480.87,251.02 L481.27,251.02 L481.67,251.03 L482.07,251.03 L482.47,251.03 L482.87,251.03 L483.27,251.04 L483.67,251.04 L484.07,251.04 L484.47,251.04 L484.49,249.04 L484.09,249.04 L483.69,249.04 L483.29,249.04 L482.89,249.03 L482.49,249.03 L482.09,249.03 L481.69,249.03 L481.29,249.02 L480.89,249.02 L480.49,249.02Z M486.47,251.05 L486.87,251.06 L487.27,251.06 L487.67,251.06 L488.07,251.06 L488.47,251.07 L488.87,251.07 L489.27,251.07 L489.67,251.07 L490.07,251.07 L490.47,251.08 L490.49,249.08 L490.09,249.07 L489.69,249.07 L489.29,249.07 L488.89,249.07 L488.49,249.07 L488.09,249.06 L487.69,249.06 L487.29,249.06 L486.89,249.06 L486.49,249.05Z M492.47,251.09 L492.87,251.09 L493.27,251.09 L493.67,251.09 L494.08,251.10 L494.48,251.10 L494.88,251.10 L495.28,251.10 L495.68,251.10 L496.08,251.11 L496.48,251.11 L496.49,249.11 L496.09,249.11 L495.69,249.10 L495.29,249.10 L494.89,249.10 L494.49,249.10 L494.09,249.10 L493.69,249.09 L493.29,249.09 L492.89,249.09 L492.49,249.09Z M498.48,251.12 L498.88,251.12 L499.28,251.12 L499.68,251.13 L500.08,251.13 L500.48,251.13 L500.88,251.13 L501.28,251.13 L501.68,251.14 L502.08,251.14 L502.48,251.14 L502.49,249.14 L502.09,249.14 L501.69,249.14 L501.29,249.13 L500.89,249.13 L500.49,249.13 L500.09,249.13 L499.69,249.13 L499.29,249.12 L498.89,249.12 L498.49,249.12Z M504.48,251.15 L504.89,251.15 L505.31,251.15 L505.73,251.16 L506.14,251.16 L506.56,251.16 L506.98,251.16 L507.40,251.16 L507.81,251.17 L507.82,249.17 L507.41,249.16 L506.99,249.16 L506.57,249.16 L506.15,249.16 L505.74,249.16 L505.32,249.15 L504.90,249.15 L504.49,249.15Z" fill="#3a3a3a" stroke="none" shape-rendering="crispEdges"/>
<path d="M70.62,156.26 L70.76,156.65 L70.91,157.03 L71.05,157.41 L71.19,157.79 L71.33,158.16 L71.47,158.54 L71.61,158.91 L71.75,159.28 L71.89,159.65 L72.04,160.02 L72.18,160.39 L72.32,160.75 L72.46,161.12 L72.60,161.48 L72.74,161.84 L72.88,162.20 L73.03,162.56 L73.17,162.91 L73.31,163.27 L73.45,163.62 L73.59,163.97 L73.73,164.32 L73.87,164.67 L74.02,165.01 L74.16,165.36 L74.30,165.70 L74.44,166.04 L74.58,166.38 L74.72,166.72 L74.86,167.05 L75.01,167.39 L75.15,167.72 L75.29,168.05 L75.43,168.38 L75.57,168.71 L75.71,169.03 L75.85,169.36 L76.00,169.68 L76.14,170.00 L76.28,170.32 L76.42,170.64 L76.56,170.96 L76.70,171.27 L76.84,171.59 L76.99,171.90 L77.13,172.21 L77.27,172.52 L77.41,172.83 L77.55,173.13 L77.69,173.44 L77.84,173.74 L77.98,174.04 L78.12,174.34 L78.26,174.64 L78.40,174.94 L78.54,175.23 L78.69,175.53 L78.83,175.82 L78.97,176.11 L79.11,176.40 L79.25,176.69 L79.39,176.97 L79.54,177.26 L79.68,177.54 L79.82,177.82 L79.96,178.11 L80.10,178.38 L80.24,178.66 L80.39,178.94 L80.53,179.21 L80.67,179.49 L80.81,179.76 L80.95,180.03 L81.10,180.30 L81.24,180.57 L81.38,180.84 L81.52,181.10 L81.66,181.37 L81.80,181.63 L81.95,181.89 L82.09,182.15 L82.23,182.41 L82.37,182.67 L82.51,182.93 L82.66,183.18 L82.80,183.44 L82.94,183.69 L83.08,183.94 L83.22,184.19 L83.36,184.44 L83.51,184.69 L83.65,184.93 L83.79,185.18 L83.93,185.42 L84.07,185.67 L84.22,185.91 L84.36,186.15 L84.50,186.39 L84.64,186.62 L84.78,186.86 L84.93,187.10 L85.07,187.33 L85.21,187.56 L85.35,187.80 L85.49,188.03 L85.64,188.26 L85.78,188.49 L85.92,188.71 L86.06,188.94 L86.20,189.17 L86.35,189.39 L86.49,189.61 L86.63,189.84 L86.77,190.06 L86.91,190.28 L87.06,190.50 L87.20,190.71 L87.34,190.93 L87.48,191.15 L87.94,191.84 L88.41,192.52 L88.87,193.20 L89.33,193.86 L89.79,194.51 L90.26,195.15 L90.72,195.78 L91.18,196.41 L91.65,197.02 L92.11,197.62 L92.57,198.22 L93.03,198.80 L93.50,199.38 L93.96,199.94 L94.42,200.50 L94.89,201.05 L95.35,201.60 L95.81,202.13 L96.28,202.66 L96.74,203.18 L97.20,203.69 L97.67,204.19 L98.13,204.69 L98.59,205.18 L99.06,205.66 L99.52,206.13 L99.98,206.60 L100.45,207.06 L100.91,207.52 L101.37,207.97 L101.84,208.41 L102.30,208.84 L102.76,209.27 L103.23,209.70 L103.69,210.12 L104.15,210.53 L104.62,210.93 L105.08,211.34 L105.55,211.73 L106.01,212.12 L106.47,212.51 L106.94,212.89 L107.40,213.26 L107.86,213.63 L108.33,213.99 L108.79,214.35 L109.25,214.71 L109.72,215.06 L110.18,215.40 L110.64,215.74 L111.11,216.08 L111.57,216.41 L112.03,216.74 L112.50,217.06 L112.96,217.38 L113.42,217.70 L113.89,218.01 L114.35,218.32 L114.81,218.62 L115.28,218.92 L115.74,219.22 L116.20,219.51 L116.67,219.80 L117.13,220.08 L117.59,220.36 L118.06,220.64 L118.52,220.91 L118.98,221.19 L119.44,221.45 L119.91,221.72 L120.37,221.98 L120.83,222.24 L121.30,222.49 L121.76,222.74 L122.22,222.99 L122.68,223.24 L123.15,223.48 L123.61,223.72 L124.07,223.96 L124.53,224.19 L125.00,224.42 L125.46,224.65 L125.92,224.88 L126.38,225.10 L126.85,225.33 L127.31,225.54 L127.77,225.76 L128.23,225.97 L128.69,226.18 L129.16,226.39 L129.62,226.60 L130.08,226.80 L130.54,227.01 L131.00,227.21 L131.47,227.40 L131.93,227.60 L132.39,227.79 L132.85,227.98 L133.31,228.17 L133.78,228.36 L134.24,228.54 L134.70,228.72 L135.16,228.91 L135.62,229.08 L136.08,229.26 L136.55,229.44 L137.01,229.61 L137.47,229.78 L137.93,229.95 L138.39,230.12 L138.85,230.28 L139.31,230.45 L139.78,230.61 L140.24,230.77 L140.70,230.93 L141.16,231.09 L141.62,231.24 L142.08,231.39 L142.54,231.55 L143.00,231.70 L143.46,231.85 L143.92,232.00 L144.39,232.14 L144.85,232.29 L145.31,232.43 L145.77,232.57 L146.23,232.71 L146.69,232.85 L147.15,232.99 L147.61,233.12 L148.07,233.26 L148.53,233.39 L148.99,233.53 L149.45,233.66 L149.91,233.79 L150.38,233.91 L150.84,234.04 L151.30,234.17 L151.76,234.29 L152.22,234.42 L152.68,234.54 L153.14,234.66 L153.60,234.78 L154.06,234.90 L154.52,235.02 L154.98,235.13 L155.44,235.25 L155.90,235.36 L156.36,235.48 L156.82,235.59 L157.28,235.70 L157.74,235.81 L158.20,235.92 L158.66,236.03 L159.12,236.13 L159.58,236.24 L160.04,236.34 L160.50,236.45 L160.96,236.55 L162.12,236.81 L163.29,237.06 L164.45,237.31 L165.62,237.55 L166.78,237.78 L167.94,238.01 L169.11,238.24 L170.27,238.45 L171.44,238.67 L172.60,238.88 L173.76,239.09 L174.93,239.29 L176.09,239.48 L177.25,239.68 L178.41,239.87 L179.58,240.05 L180.74,240.23 L181.90,240.41 L183.06,240.58 L184.23,240.75 L185.39,240.92 L186.55,241.08 L187.71,241.24 L188.88,241.40 L189.17,239.22 L188.01,239.06 L186.86,238.90 L185.70,238.74 L184.54,238.58 L183.39,238.41 L182.23,238.23 L181.07,238.06 L179.92,237.88 L178.76,237.69 L177.61,237.51 L176.45,237.31 L175.30,237.12 L174.14,236.92 L172.99,236.71 L171.83,236.51 L170.68,236.29 L169.52,236.07 L168.37,235.85 L167.21,235.62 L166.06,235.39 L164.90,235.15 L163.75,234.91 L162.59,234.66 L161.44,234.40 L160.98,234.30 L160.53,234.20 L160.07,234.10 L159.62,233.99 L159.16,233.88 L158.71,233.78 L158.25,233.67 L157.79,233.56 L157.34,233.45 L156.88,233.34 L156.43,233.23 L155.97,233.11 L155.52,233.00 L155.06,232.88 L154.61,232.77 L154.15,232.65 L153.70,232.53 L153.24,232.41 L152.78,232.29 L152.33,232.17 L151.87,232.04 L151.42,231.92 L150.96,231.79 L150.51,231.67 L150.05,231.54 L149.60,231.41 L149.14,231.28 L148.69,231.15 L148.23,231.01 L147.78,230.88 L147.32,230.74 L146.87,230.61 L146.41,230.47 L145.96,230.33 L145.50,230.19 L145.05,230.04 L144.59,229.90 L144.14,229.75 L143.68,229.61 L143.23,229.46 L142.77,229.31 L142.32,229.16 L141.87,229.00 L141.41,228.85 L140.96,228.69 L140.50,228.53 L140.05,228.37 L139.59,228.21 L139.14,228.05 L138.68,227.88 L138.23,227.72 L137.78,227.55 L137.32,227.38 L136.87,227.20 L136.41,227.03 L135.96,226.85 L135.50,226.68 L135.05,226.50 L134.60,226.32 L134.14,226.13 L133.69,225.95 L133.23,225.76 L132.78,225.57 L132.33,225.38 L131.87,225.18 L131.42,224.99 L130.97,224.79 L130.51,224.59 L130.06,224.39 L129.60,224.18 L129.15,223.97 L128.70,223.76 L128.24,223.55 L127.79,223.34 L127.34,223.12 L126.88,222.90 L126.43,222.68 L125.98,222.46 L125.52,222.23 L125.07,222.00 L124.62,221.77 L124.16,221.53 L123.71,221.29 L123.26,221.05 L122.81,220.81 L122.35,220.56 L121.90,220.31 L121.45,220.06 L120.99,219.80 L120.54,219.55 L120.09,219.28 L119.64,219.02 L119.18,218.75 L118.73,218.48 L118.28,218.20 L117.82,217.93 L117.37,217.64 L116.92,217.36 L116.47,217.07 L116.01,216.78 L115.56,216.48 L115.11,216.18 L114.66,215.88 L114.20,215.57 L113.75,215.26 L113.30,214.94 L112.85,214.62 L112.39,214.30 L111.94,213.97 L111.49,213.64 L111.04,213.30 L110.59,212.96 L110.13,212.61 L109.68,212.26 L109.23,211.90 L108.78,211.54 L108.32,211.18 L107.87,210.81 L107.42,210.43 L106.97,210.05 L106.52,209.67 L106.06,209.28 L105.61,208.88 L105.16,208.48 L104.71,208.07 L104.25,207.66 L103.80,207.24 L103.35,206.81 L102.90,206.38 L102.45,205.94 L101.99,205.50 L101.54,205.05 L101.09,204.59 L100.64,204.13 L100.18,203.66 L99.73,203.18 L99.28,202.70 L98.83,202.20 L98.37,201.70 L97.92,201.20 L97.47,200.68 L97.02,200.16 L96.56,199.63 L96.11,199.09 L95.66,198.55 L95.21,197.99 L94.75,197.43 L94.30,196.86 L93.85,196.28 L93.40,195.69 L92.94,195.09 L92.49,194.48 L92.04,193.86 L91.58,193.23 L91.13,192.59 L90.68,191.94 L90.22,191.28 L89.77,190.61 L89.32,189.93 L89.18,189.72 L89.04,189.51 L88.90,189.30 L88.76,189.08 L88.62,188.86 L88.48,188.65 L88.34,188.43 L88.20,188.21 L88.06,187.99 L87.92,187.77 L87.78,187.55 L87.65,187.32 L87.51,187.10 L87.37,186.87 L87.23,186.65 L87.09,186.42 L86.95,186.19 L86.81,185.96 L86.67,185.73 L86.53,185.50 L86.39,185.26 L86.25,185.03 L86.11,184.79 L85.97,184.55 L85.83,184.31 L85.69,184.07 L85.55,183.83 L85.41,183.59 L85.27,183.35 L85.14,183.10 L85.00,182.86 L84.86,182.61 L84.72,182.36 L84.58,182.11 L84.44,181.86 L84.30,181.61 L84.16,181.35 L84.02,181.10 L83.88,180.84 L83.74,180.58 L83.60,180.33 L83.46,180.07 L83.32,179.80 L83.18,179.54 L83.04,179.28 L82.90,179.01 L82.76,178.74 L82.62,178.48 L82.48,178.21 L82.34,177.93 L82.20,177.66 L82.06,177.39 L81.92,177.11 L81.78,176.84 L81.64,176.56 L81.51,176.28 L81.37,176.00 L81.23,175.71 L81.09,175.43 L80.95,175.14 L80.81,174.86 L80.67,174.57 L80.53,174.28 L80.39,173.99 L80.25,173.69 L80.11,173.40 L79.97,173.10 L79.83,172.81 L79.69,172.51 L79.55,172.21 L79.41,171.90 L79.27,171.60 L79.13,171.30 L78.99,170.99 L78.85,170.68 L78.71,170.37 L78.57,170.06 L78.43,169.75 L78.29,169.43 L78.15,169.12 L78.01,168.80 L77.87,168.48 L77.73,168.16 L77.59,167.83 L77.45,167.51 L77.31,167.18 L77.17,166.86 L77.03,166.53 L76.89,166.20 L76.75,165.86 L76.61,165.53 L76.47,165.19 L76.33,164.86 L76.19,164.52 L76.05,164.18 L75.91,163.84 L75.77,163.49 L75.63,163.15 L75.49,162.80 L75.35,162.45 L75.21,162.10 L75.07,161.75 L74.93,161.39 L74.79,161.04 L74.65,160.68 L74.51,160.32 L74.37,159.96 L74.23,159.60 L74.09,159.23 L73.95,158.87 L73.81,158.50 L73.67,158.13 L73.53,157.76 L73.39,157.39 L73.25,157.02 L73.11,156.64 L72.97,156.26 L72.83,155.88 L72.69,155.50Z" fill="#000000" stroke="none"/>
<path d="M188.89,241.30 L190.05,241.45 L191.21,241.61 L192.37,241.75 L193.54,241.90 L194.70,242.04 L195.86,242.18 L197.02,242.32 L198.18,242.45 L199.34,242.58 L200.51,242.71 L201.67,242.84 L202.83,242.96 L203.99,243.09 L205.15,243.21 L206.31,243.32 L207.47,243.44 L208.63,243.55 L209.79,243.66 L210.96,243.77 L212.12,243.88 L213.28,243.99 L214.44,244.09 L215.60,244.19 L216.76,244.29 L217.92,244.39 L219.08,244.49 L220.24,244.58 L221.40,244.68 L222.56,244.77 L223.72,244.86 L224.88,244.95 L226.04,245.04 L227.20,245.12 L228.37,245.21 L229.53,245.29 L230.69,245.37 L231.85,245.45 L233.01,245.53 L234.17,245.61 L235.33,245.68 L236.49,245.76 L237.65,245.83 L238.81,245.91 L239.97,245.98 L241.13,246.05 L242.29,246.12 L243.45,246.19 L244.61,246.25 L245.77,246.32 L246.93,246.39 L248.09,246.45 L249.25,246.51 L250.41,246.58 L251.57,246.64 L252.73,246.70 L253.89,246.76 L255.05,246.82 L256.21,246.87 L257.37,246.93 L258.53,246.99 L259.69,247.04 L260.85,247.10 L262.01,247.15 L263.17,247.20 L264.33,247.25 L265.49,247.31 L266.65,247.36 L267.81,247.41 L268.97,247.45 L270.13,247.50 L271.29,247.55 L272.45,247.60 L273.61,247.64 L274.77,247.69 L275.93,247.74 L277.09,247.78 L278.25,247.82 L279.41,247.87 L280.57,247.91 L281.73,247.95 L282.89,247.99 L284.05,248.03 L285.21,248.07 L286.37,248.11 L287.53,248.15 L288.69,248.19 L289.85,248.23 L291.00,248.27 L292.16,248.31 L293.32,248.34 L294.48,248.38 L295.64,248.41 L296.80,248.45 L297.96,248.48 L299.12,248.52 L300.28,248.55 L301.44,248.59 L302.60,248.62 L303.76,248.65 L304.92,248.68 L306.08,248.72 L307.24,248.75 L308.40,248.78 L309.56,248.81 L310.72,248.84 L311.88,248.87 L313.04,248.90 L314.20,248.93 L315.36,248.96 L316.52,248.99 L317.68,249.01 L318.84,249.04 L320.00,249.07 L321.15,249.10 L322.31,249.12 L323.47,249.15 L324.63,249.18 L325.79,249.20 L326.95,249.23 L328.11,249.25 L329.27,249.28 L330.43,249.30 L331.59,249.33 L332.75,249.35 L333.91,249.37 L335.07,249.40 L336.23,249.42 L337.39,249.44 L338.55,249.46 L339.71,249.49 L340.87,249.51 L342.03,249.53 L343.19,249.55 L344.34,249.57 L345.50,249.59 L346.66,249.62 L347.82,249.64 L348.98,249.66 L350.14,249.68 L351.30,249.70 L352.46,249.72 L353.62,249.74 L354.78,249.76 L355.94,249.77 L357.10,249.79 L358.26,249.81 L359.42,249.83 L360.58,249.85 L361.74,249.87 L362.90,249.88 L364.06,249.90 L365.21,249.92 L366.37,249.94 L367.53,249.95 L368.69,249.97 L369.85,249.99 L371.01,250.00 L372.17,250.02 L373.33,250.04 L374.49,250.05 L375.65,250.07 L376.81,250.08 L377.97,250.10 L379.13,250.11 L380.29,250.13 L381.45,250.14 L382.61,250.16 L383.77,250.17 L384.92,250.19 L386.08,250.20 L387.24,250.22 L388.40,250.23 L389.56,250.24 L390.72,250.26 L391.88,250.27 L393.04,250.29 L394.20,250.30 L395.36,250.31 L396.52,250.33 L397.68,250.34 L398.84,250.35 L400.00,250.36 L401.16,250.38 L402.32,250.39 L403.47,250.40 L404.63,250.41 L405.79,250.43 L406.95,250.44 L408.11,250.45 L409.27,250.46 L410.43,250.47 L411.59,250.48 L412.75,250.50 L413.91,250.51 L415.07,250.52 L416.23,250.53 L417.39,250.54 L418.55,250.55 L419.71,250.56 L420.87,250.57 L422.02,250.58 L423.18,250.59 L424.34,250.60 L425.50,250.61 L426.66,250.62 L427.82,250.63 L428.98,250.64 L430.14,250.65 L431.30,250.66 L432.46,250.67 L433.62,250.68 L434.78,250.69 L435.94,250.70 L437.10,250.71 L438.26,250.72 L439.41,250.73 L440.57,250.74 L441.73,250.75 L442.89,250.76 L444.05,250.77 L445.21,250.77 L446.37,250.78 L447.53,250.79 L448.69,250.80 L449.85,250.81 L451.01,250.82 L452.17,250.82 L453.33,250.83 L454.49,250.84 L455.65,250.85 L456.80,250.86 L457.96,250.86 L459.12,250.87 L460.28,250.88 L461.44,250.89 L462.60,250.90 L463.76,250.90 L464.92,250.91 L466.08,250.92 L467.24,250.93 L468.40,250.93 L469.56,250.94 L470.72,250.95 L471.88,250.95 L473.04,250.96 L474.19,250.97 L475.35,250.97 L476.51,250.98 L477.67,250.99 L478.83,251.00 L479.99,251.00 L481.15,251.01 L482.31,251.02 L483.47,251.02 L484.63,251.03 L485.79,251.03 L486.95,251.04 L488.11,251.05 L489.27,251.05 L490.42,251.06 L491.58,251.07 L492.74,251.07 L493.90,251.08 L495.06,251.08 L496.22,251.09 L497.38,251.10 L498.54,251.10 L499.70,251.11 L500.86,251.11 L502.02,251.12 L503.18,251.12 L504.34,251.13 L505.50,251.14 L506.66,251.14 L507.81,251.15 L507.82,249.15 L506.66,249.14 L505.51,249.14 L504.35,249.13 L503.19,249.12 L502.03,249.12 L500.87,249.11 L499.71,249.11 L498.55,249.10 L497.39,249.10 L496.23,249.09 L495.07,249.08 L493.91,249.08 L492.75,249.07 L491.59,249.07 L490.44,249.06 L489.28,249.05 L488.12,249.05 L486.96,249.04 L485.80,249.03 L484.64,249.03 L483.48,249.02 L482.32,249.02 L481.16,249.01 L480.00,249.00 L478.84,249.00 L477.68,248.99 L476.52,248.98 L475.37,248.97 L474.21,248.97 L473.05,248.96 L471.89,248.95 L470.73,248.95 L469.57,248.94 L468.41,248.93 L467.25,248.93 L466.09,248.92 L464.93,248.91 L463.77,248.90 L462.61,248.90 L461.46,248.89 L460.30,248.88 L459.14,248.87 L457.98,248.86 L456.82,248.86 L455.66,248.85 L454.50,248.84 L453.34,248.83 L452.18,248.82 L451.02,248.82 L449.86,248.81 L448.70,248.80 L447.54,248.79 L446.39,248.78 L445.23,248.77 L444.07,248.77 L442.91,248.76 L441.75,248.75 L440.59,248.74 L439.43,248.73 L438.27,248.72 L437.11,248.71 L435.95,248.70 L434.79,248.69 L433.63,248.68 L432.48,248.67 L431.32,248.66 L430.16,248.65 L429.00,248.64 L427.84,248.63 L426.68,248.62 L425.52,248.61 L424.36,248.60 L423.20,248.59 L422.04,248.58 L420.88,248.57 L419.72,248.56 L418.57,248.55 L417.41,248.54 L416.25,248.53 L415.09,248.52 L413.93,248.51 L412.77,248.50 L411.61,248.48 L410.45,248.47 L409.29,248.46 L408.13,248.45 L406.97,248.44 L405.81,248.43 L404.66,248.41 L403.50,248.40 L402.34,248.39 L401.18,248.38 L400.02,248.36 L398.86,248.35 L397.70,248.34 L396.54,248.33 L395.38,248.31 L394.22,248.30 L393.06,248.29 L391.90,248.27 L390.75,248.26 L389.59,248.25 L388.43,248.23 L387.27,248.22 L386.11,248.20 L384.95,248.19 L383.79,248.17 L382.63,248.16 L381.47,248.14 L380.31,248.13 L379.15,248.11 L378.00,248.10 L376.84,248.08 L375.68,248.07 L374.52,248.05 L373.36,248.04 L372.20,248.02 L371.04,248.00 L369.88,247.99 L368.72,247.97 L367.56,247.95 L366.40,247.94 L365.24,247.92 L364.09,247.90 L362.93,247.88 L361.77,247.87 L360.61,247.85 L359.45,247.83 L358.29,247.81 L357.13,247.79 L355.97,247.77 L354.81,247.76 L353.65,247.74 L352.49,247.72 L351.34,247.70 L350.18,247.68 L349.02,247.66 L347.86,247.64 L346.70,247.62 L345.54,247.60 L344.38,247.57 L343.22,247.55 L342.06,247.53 L340.90,247.51 L339.75,247.49 L338.59,247.47 L337.43,247.44 L336.27,247.42 L335.11,247.40 L333.95,247.37 L332.79,247.35 L331.63,247.33 L330.47,247.30 L329.31,247.28 L328.16,247.25 L327.00,247.23 L325.84,247.20 L324.68,247.18 L323.52,247.15 L322.36,247.12 L321.20,247.10 L320.04,247.07 L318.88,247.04 L317.72,247.01 L316.57,246.99 L315.41,246.96 L314.25,246.93 L313.09,246.90 L311.93,246.87 L310.77,246.84 L309.61,246.81 L308.45,246.78 L307.29,246.75 L306.13,246.72 L304.98,246.69 L303.82,246.65 L302.66,246.62 L301.50,246.59 L300.34,246.55 L299.18,246.52 L298.02,246.49 L296.86,246.45 L295.70,246.42 L294.55,246.38 L293.39,246.34 L292.23,246.31 L291.07,246.27 L289.91,246.23 L288.75,246.19 L287.59,246.15 L286.43,246.12 L285.28,246.08 L284.12,246.04 L282.96,245.99 L281.80,245.95 L280.64,245.91 L279.48,245.87 L278.32,245.83 L277.16,245.78 L276.01,245.74 L274.85,245.69 L273.69,245.65 L272.53,245.60 L271.37,245.55 L270.21,245.51 L269.05,245.46 L267.89,245.41 L266.74,245.36 L265.58,245.31 L264.42,245.26 L263.26,245.20 L262.10,245.15 L260.94,245.10 L259.78,245.04 L258.63,244.99 L257.47,244.93 L256.31,244.88 L255.15,244.82 L253.99,244.76 L252.83,244.70 L251.67,244.64 L250.52,244.58 L249.36,244.52 L248.20,244.45 L247.04,244.39 L245.88,244.32 L244.72,244.26 L243.57,244.19 L242.41,244.12 L241.25,244.05 L240.09,243.98 L238.93,243.91 L237.77,243.84 L236.62,243.76 L235.46,243.69 L234.30,243.61 L233.14,243.53 L231.98,243.46 L230.83,243.38 L229.67,243.29 L228.51,243.21 L227.35,243.13 L226.19,243.04 L225.04,242.95 L223.88,242.86 L222.72,242.77 L221.56,242.68 L220.40,242.59 L219.25,242.49 L218.09,242.40 L216.93,242.30 L215.77,242.20 L214.61,242.10 L213.46,241.99 L212.30,241.89 L211.14,241.78 L209.98,241.67 L208.83,241.56 L207.67,241.45 L206.51,241.33 L205.35,241.22 L204.20,241.10 L203.04,240.97 L201.88,240.85 L200.72,240.72 L199.57,240.60 L198.41,240.46 L197.25,240.33 L196.10,240.19 L194.94,240.05 L193.78,239.91 L192.63,239.77 L191.47,239.62 L190.31,239.47 L189.15,239.32Z" fill="#000000" stroke="none" shape-rendering="crispEdges"/>
<path d="M70.68,122.11 L70.82,122.71 L70.96,123.32 L71.11,123.91 L71.25,124.51 L71.39,125.09 L71.53,125.68 L71.67,126.26 L71.81,126.83 L71.95,127.40 L72.09,127.97 L72.23,128.54 L72.38,129.09 L72.52,129.65 L72.66,130.20 L72.80,130.75 L72.94,131.29 L73.08,131.83 L73.22,132.37 L73.36,132.90 L73.50,133.43 L73.65,133.95 L73.79,134.47 L73.93,134.99 L74.07,135.50 L74.21,136.01 L74.35,136.52 L74.49,137.02 L74.63,137.52 L74.77,138.02 L74.92,138.51 L75.06,139.00 L75.20,139.49 L75.34,139.97 L75.48,140.45 L75.62,140.93 L75.76,141.40 L75.90,141.87 L76.05,142.34 L76.19,142.80 L76.33,143.26 L76.47,143.72 L76.61,144.17 L76.75,144.62 L76.89,145.07 L77.03,145.52 L77.18,145.96 L77.32,146.40 L77.46,146.84 L77.60,147.27 L77.74,147.70 L77.88,148.13 L78.02,148.56 L78.17,148.98 L78.31,149.40 L78.45,149.82 L78.59,150.23 L78.73,150.64 L78.87,151.05 L79.01,151.46 L79.15,151.86 L79.30,152.27 L79.44,152.66 L79.58,153.06 L79.72,153.46 L79.86,153.85 L80.00,154.24 L80.14,154.62 L80.29,155.01 L80.43,155.39 L80.57,155.77 L80.71,156.15 L80.85,156.52 L80.99,156.89 L81.13,157.27 L81.28,157.63 L81.42,158.00 L81.56,158.36 L81.70,158.72 L81.84,159.08 L81.98,159.44 L82.12,159.80 L82.27,160.15 L82.41,160.50 L82.55,160.85 L82.69,161.20 L82.83,161.54 L82.97,161.88 L83.12,162.22 L83.26,162.56 L83.40,162.90 L83.54,163.23 L83.68,163.57 L83.82,163.90 L83.96,164.23 L84.11,164.55 L84.25,164.88 L84.39,165.20 L84.53,165.52 L84.67,165.84 L84.81,166.16 L84.96,166.47 L85.10,166.79 L85.24,167.10 L85.38,167.41 L85.52,167.72 L85.66,168.03 L85.80,168.33 L85.95,168.63 L86.09,168.94 L86.23,169.24 L86.37,169.53 L86.51,169.83 L86.65,170.13 L86.80,170.42 L86.94,170.71 L87.08,171.00 L87.22,171.29 L87.36,171.58 L87.51,171.86 L87.97,172.78 L88.43,173.68 L88.89,174.57 L89.35,175.44 L89.81,176.29 L90.27,177.13 L90.73,177.96 L91.20,178.77 L91.66,179.57 L92.12,180.36 L92.58,181.13 L93.04,181.89 L93.50,182.64 L93.97,183.37 L94.43,184.09 L94.89,184.81 L95.35,185.51 L95.81,186.20 L96.27,186.87 L96.74,187.54 L97.20,188.20 L97.66,188.85 L98.12,189.48 L98.59,190.11 L99.05,190.73 L99.51,191.34 L99.97,191.94 L100.43,192.53 L100.90,193.11 L101.36,193.68 L101.82,194.25 L102.28,194.80 L102.75,195.35 L103.21,195.89 L103.67,196.43 L104.13,196.95 L104.60,197.47 L105.06,197.98 L105.52,198.48 L105.99,198.98 L106.45,199.47 L106.91,199.95 L107.37,200.43 L107.84,200.90 L108.30,201.36 L108.76,201.82 L109.22,202.27 L109.69,202.71 L110.15,203.15 L110.61,203.58 L111.08,204.01 L111.54,204.43 L112.00,204.85 L112.46,205.26 L112.93,205.66 L113.39,206.06 L113.85,206.46 L114.31,206.85 L114.78,207.23 L115.24,207.61 L115.70,207.99 L116.16,208.36 L116.63,208.72 L117.09,209.08 L117.55,209.44 L118.02,209.79 L118.48,210.14 L118.94,210.48 L119.40,210.82 L119.87,211.16 L120.33,211.49 L120.79,211.82 L121.25,212.14 L121.72,212.46 L122.18,212.78 L122.64,213.09 L123.10,213.40 L123.57,213.70 L124.03,214.00 L124.49,214.30 L124.95,214.59 L125.41,214.88 L125.88,215.17 L126.34,215.46 L126.80,215.74 L127.26,216.01 L127.73,216.29 L128.19,216.56 L128.65,216.83 L129.11,217.09 L129.57,217.36 L130.04,217.62 L130.50,217.87 L130.96,218.13 L131.42,218.38 L131.88,218.63 L132.34,218.87 L132.81,219.12 L133.27,219.36 L133.73,219.59 L134.19,219.83 L134.65,220.06 L135.12,220.29 L135.58,220.52 L136.04,220.74 L136.50,220.97 L136.96,221.19 L137.42,221.41 L137.88,221.62 L138.35,221.84 L138.81,222.05 L139.27,222.26 L139.73,222.47 L140.19,222.67 L140.65,222.87 L141.11,223.08 L141.58,223.27 L142.04,223.47 L142.50,223.67 L142.96,223.86 L143.42,224.05 L143.88,224.24 L144.34,224.43 L144.80,224.61 L145.26,224.80 L145.72,224.98 L146.19,225.16 L146.65,225.34 L147.11,225.51 L147.57,225.69 L148.03,225.86 L148.49,226.03 L148.95,226.21 L149.41,226.37 L149.87,226.54 L150.33,226.71 L150.79,226.87 L151.25,227.03 L151.71,227.19 L152.18,227.35 L152.64,227.51 L153.10,227.67 L153.56,227.82 L154.02,227.97 L154.48,228.13 L154.94,228.28 L155.40,228.42 L155.86,228.57 L156.32,228.72 L156.78,228.86 L157.24,229.01 L157.70,229.15 L158.16,229.29 L158.62,229.43 L159.08,229.57 L159.54,229.71 L160.00,229.84 L160.46,229.98 L160.92,230.11 L162.09,230.45 L163.25,230.77 L164.42,231.09 L165.58,231.41 L166.74,231.72 L167.90,232.02 L169.06,232.33 L170.22,232.63 L171.38,232.94 L172.54,233.24 L173.71,233.53 L174.87,233.83 L176.03,234.12 L177.19,234.41 L178.35,234.69 L179.52,234.97 L180.68,235.24 L181.84,235.51 L183.01,235.78 L184.17,236.04 L185.34,236.29 L186.50,236.54 L187.66,236.78 L188.83,237.01 L189.22,235.05 L188.06,234.82 L186.91,234.58 L185.75,234.34 L184.60,234.08 L183.45,233.83 L182.29,233.57 L181.14,233.30 L179.98,233.02 L178.82,232.75 L177.67,232.46 L176.51,232.18 L175.36,231.89 L174.20,231.59 L173.04,231.30 L171.88,231.00 L170.73,230.70 L169.57,230.40 L168.41,230.09 L167.25,229.78 L166.10,229.47 L164.94,229.16 L163.79,228.85 L162.63,228.52 L161.48,228.19 L161.02,228.06 L160.57,227.93 L160.11,227.79 L159.66,227.66 L159.20,227.52 L158.75,227.38 L158.29,227.24 L157.83,227.10 L157.38,226.96 L156.92,226.81 L156.47,226.67 L156.01,226.52 L155.56,226.37 L155.10,226.23 L154.65,226.07 L154.19,225.92 L153.74,225.77 L153.28,225.62 L152.83,225.46 L152.37,225.30 L151.92,225.14 L151.46,224.98 L151.01,224.82 L150.55,224.66 L150.10,224.49 L149.64,224.33 L149.19,224.16 L148.73,223.99 L148.28,223.82 L147.82,223.65 L147.37,223.47 L146.91,223.30 L146.46,223.12 L146.00,222.94 L145.55,222.76 L145.09,222.57 L144.64,222.39 L144.18,222.20 L143.73,222.01 L143.27,221.82 L142.82,221.63 L142.36,221.44 L141.91,221.24 L141.46,221.04 L141.00,220.84 L140.55,220.64 L140.09,220.44 L139.64,220.23 L139.18,220.02 L138.73,219.81 L138.28,219.60 L137.82,219.38 L137.37,219.17 L136.91,218.95 L136.46,218.72 L136.00,218.50 L135.55,218.27 L135.10,218.04 L134.64,217.81 L134.19,217.58 L133.73,217.34 L133.28,217.10 L132.83,216.86 L132.37,216.62 L131.92,216.37 L131.46,216.12 L131.01,215.87 L130.56,215.62 L130.10,215.36 L129.65,215.10 L129.20,214.83 L128.74,214.57 L128.29,214.30 L127.84,214.03 L127.38,213.75 L126.93,213.47 L126.47,213.19 L126.02,212.90 L125.57,212.61 L125.11,212.32 L124.66,212.03 L124.21,211.73 L123.75,211.43 L123.30,211.12 L122.85,210.81 L122.39,210.50 L121.94,210.18 L121.49,209.86 L121.03,209.54 L120.58,209.21 L120.13,208.87 L119.68,208.54 L119.22,208.20 L118.77,207.85 L118.32,207.50 L117.86,207.15 L117.41,206.79 L116.96,206.43 L116.50,206.06 L116.05,205.69 L115.60,205.31 L115.14,204.93 L114.69,204.55 L114.24,204.15 L113.79,203.76 L113.33,203.36 L112.88,202.95 L112.43,202.54 L111.97,202.12 L111.52,201.69 L111.07,201.26 L110.61,200.83 L110.16,200.39 L109.71,199.94 L109.26,199.49 L108.80,199.03 L108.35,198.56 L107.90,198.09 L107.44,197.61 L106.99,197.12 L106.54,196.63 L106.08,196.13 L105.63,195.62 L105.18,195.11 L104.72,194.59 L104.27,194.06 L103.82,193.52 L103.37,192.98 L102.91,192.42 L102.46,191.86 L102.01,191.29 L101.55,190.71 L101.10,190.12 L100.65,189.53 L100.19,188.92 L99.74,188.30 L99.28,187.68 L98.83,187.04 L98.38,186.40 L97.92,185.74 L97.47,185.08 L97.02,184.40 L96.56,183.71 L96.11,183.01 L95.65,182.30 L95.20,181.58 L94.75,180.84 L94.29,180.10 L93.84,179.34 L93.38,178.56 L92.93,177.78 L92.48,176.98 L92.02,176.16 L91.57,175.34 L91.11,174.49 L90.66,173.64 L90.20,172.76 L89.75,171.87 L89.29,170.97 L89.16,170.69 L89.02,170.41 L88.88,170.12 L88.74,169.83 L88.60,169.55 L88.46,169.26 L88.32,168.97 L88.18,168.67 L88.04,168.38 L87.90,168.08 L87.76,167.79 L87.62,167.49 L87.48,167.19 L87.34,166.88 L87.20,166.58 L87.06,166.27 L86.92,165.96 L86.78,165.65 L86.64,165.34 L86.50,165.03 L86.36,164.71 L86.22,164.40 L86.08,164.08 L85.94,163.76 L85.80,163.43 L85.66,163.11 L85.52,162.78 L85.38,162.45 L85.24,162.12 L85.10,161.79 L84.96,161.45 L84.82,161.12 L84.68,160.78 L84.54,160.44 L84.40,160.10 L84.26,159.75 L84.12,159.40 L83.98,159.05 L83.84,158.70 L83.70,158.35 L83.56,157.99 L83.42,157.64 L83.28,157.28 L83.14,156.91 L83.00,156.55 L82.86,156.18 L82.72,155.81 L82.58,155.44 L82.44,155.07 L82.30,154.69 L82.16,154.32 L82.02,153.93 L81.88,153.55 L81.74,153.17 L81.60,152.78 L81.46,152.39 L81.32,151.99 L81.18,151.60 L81.04,151.20 L80.90,150.80 L80.76,150.40 L80.62,149.99 L80.48,149.58 L80.34,149.17 L80.20,148.76 L80.06,148.34 L79.92,147.92 L79.78,147.50 L79.64,147.08 L79.50,146.65 L79.36,146.22 L79.22,145.79 L79.08,145.35 L78.94,144.91 L78.80,144.47 L78.66,144.02 L78.52,143.58 L78.38,143.13 L78.24,142.67 L78.10,142.22 L77.96,141.76 L77.82,141.29 L77.68,140.83 L77.54,140.36 L77.40,139.88 L77.26,139.41 L77.12,138.93 L76.98,138.45 L76.84,137.96 L76.70,137.47 L76.56,136.98 L76.42,136.48 L76.28,135.98 L76.14,135.48 L76.00,134.97 L75.86,134.46 L75.72,133.95 L75.58,133.43 L75.44,132.91 L75.30,132.38 L75.16,131.86 L75.02,131.32 L74.87,130.79 L74.73,130.25 L74.59,129.70 L74.45,129.16 L74.31,128.60 L74.17,128.05 L74.03,127.49 L73.89,126.92 L73.75,126.36 L73.61,125.78 L73.47,125.21 L73.33,124.63 L73.19,124.04 L73.05,123.45 L72.91,122.86 L72.77,122.26 L72.63,121.66Z" fill="#3c3c3c" stroke="none"/>
<path d="M188.83,237.01 L190.00,237.23 L191.16,237.45 L192.33,237.66 L193.49,237.86 L194.66,238.05 L195.82,238.24 L196.98,238.42 L198.14,238.60 L199.31,238.78 L200.47,238.95 L201.63,239.12 L202.79,239.29 L203.95,239.45 L205.12,239.62 L206.28,239.77 L207.44,239.93 L208.60,240.08 L209.76,240.23 L210.92,240.38 L212.08,240.53 L213.25,240.67 L214.41,240.81 L215.57,240.95 L216.73,241.09 L217.89,241.22 L219.05,241.35 L220.22,241.47 L221.38,241.60 L222.54,241.72 L223.70,241.83 L224.86,241.95 L226.02,242.06 L227.19,242.17 L228.35,242.27 L229.51,242.38 L230.67,242.48 L231.83,242.58 L232.99,242.67 L234.15,242.77 L235.31,242.86 L236.48,242.95 L237.64,243.04 L238.80,243.12 L239.96,243.21 L241.12,243.29 L242.28,243.37 L243.44,243.45 L244.60,243.53 L245.76,243.60 L246.92,243.68 L248.08,243.75 L249.24,243.82 L250.40,243.89 L251.56,243.96 L252.72,244.03 L253.88,244.10 L255.04,244.16 L256.20,244.23 L257.36,244.29 L258.52,244.36 L259.68,244.42 L260.84,244.48 L262.00,244.55 L263.16,244.61 L264.32,244.67 L265.48,244.73 L266.64,244.79 L267.80,244.85 L268.96,244.92 L270.12,244.98 L271.28,245.04 L272.44,245.10 L273.60,245.16 L274.76,245.22 L275.91,245.28 L277.07,245.34 L278.23,245.40 L279.39,245.46 L280.55,245.52 L281.71,245.58 L282.87,245.64 L284.03,245.70 L285.19,245.76 L286.35,245.82 L287.51,245.87 L288.67,245.93 L289.83,245.98 L290.99,246.04 L292.15,246.09 L293.31,246.15 L294.47,246.20 L295.63,246.25 L296.79,246.30 L297.95,246.35 L299.11,246.40 L300.27,246.45 L301.43,246.50 L302.59,246.55 L303.75,246.60 L304.91,246.64 L306.07,246.69 L307.23,246.74 L308.39,246.78 L309.55,246.83 L310.71,246.87 L311.87,246.92 L313.03,246.96 L314.19,247.00 L315.35,247.04 L316.51,247.09 L317.66,247.13 L318.82,247.17 L319.98,247.21 L321.14,247.25 L322.30,247.29 L323.46,247.33 L324.62,247.37 L325.78,247.40 L326.94,247.44 L328.10,247.48 L329.26,247.52 L330.42,247.55 L331.58,247.59 L332.74,247.62 L333.90,247.66 L335.06,247.70 L336.22,247.73 L337.38,247.76 L338.54,247.80 L339.70,247.83 L340.86,247.86 L342.02,247.90 L343.18,247.93 L344.34,247.96 L345.50,247.99 L346.65,248.02 L347.81,248.06 L348.97,248.09 L350.13,248.12 L351.29,248.15 L352.45,248.18 L353.61,248.21 L354.77,248.24 L355.93,248.26 L357.09,248.29 L358.25,248.32 L359.41,248.35 L360.57,248.38 L361.73,248.40 L362.89,248.43 L364.05,248.46 L365.21,248.48 L366.37,248.51 L367.53,248.54 L368.69,248.56 L369.85,248.59 L371.00,248.61 L372.16,248.64 L373.32,248.66 L374.48,248.69 L375.64,248.71 L376.80,248.74 L377.96,248.76 L379.12,248.78 L380.28,248.81 L381.44,248.83 L382.60,248.85 L383.76,248.88 L384.92,248.90 L386.08,248.92 L387.24,248.94 L388.40,248.96 L389.56,248.99 L390.72,249.01 L391.87,249.03 L393.03,249.05 L394.19,249.07 L395.35,249.09 L396.51,249.11 L397.67,249.13 L398.83,249.15 L399.99,249.17 L401.15,249.19 L402.31,249.21 L403.47,249.23 L404.63,249.25 L405.79,249.27 L406.95,249.29 L408.11,249.30 L409.27,249.32 L410.43,249.34 L411.58,249.36 L412.74,249.38 L413.90,249.39 L415.06,249.41 L416.22,249.43 L417.38,249.45 L418.54,249.46 L419.70,249.48 L420.86,249.50 L422.02,249.51 L423.18,249.53 L424.34,249.55 L425.50,249.56 L426.66,249.58 L427.82,249.60 L428.98,249.61 L430.14,249.63 L431.29,249.64 L432.45,249.66 L433.61,249.67 L434.77,249.69 L435.93,249.70 L437.09,249.72 L438.25,249.73 L439.41,249.75 L440.57,249.76 L441.73,249.78 L442.89,249.79 L444.05,249.81 L445.21,249.82 L446.37,249.83 L447.53,249.85 L448.68,249.86 L449.84,249.87 L451.00,249.89 L452.16,249.90 L453.32,249.91 L454.48,249.93 L455.64,249.94 L456.80,249.95 L457.96,249.97 L459.12,249.98 L460.28,249.99 L461.44,250.00 L462.60,250.02 L463.76,250.03 L464.92,250.04 L466.08,250.05 L467.23,250.06 L468.39,250.08 L469.55,250.09 L470.71,250.10 L471.87,250.11 L473.03,250.12 L474.19,250.13 L475.35,250.14 L476.51,250.16 L477.67,250.17 L478.83,250.18 L479.99,250.19 L481.15,250.20 L482.31,250.21 L483.47,250.22 L484.62,250.23 L485.78,250.24 L486.94,250.25 L488.10,250.26 L489.26,250.27 L490.42,250.28 L491.58,250.29 L492.74,250.30 L493.90,250.31 L495.06,250.32 L496.22,250.33 L497.38,250.34 L498.54,250.35 L499.70,250.36 L500.86,250.37 L502.01,250.38 L503.17,250.39 L504.33,250.40 L505.49,250.41 L506.65,250.42 L507.81,250.43 L507.83,248.43 L506.67,248.42 L505.51,248.41 L504.35,248.40 L503.19,248.39 L502.03,248.38 L500.87,248.37 L499.71,248.36 L498.55,248.35 L497.39,248.34 L496.23,248.33 L495.08,248.32 L493.92,248.31 L492.76,248.30 L491.60,248.29 L490.44,248.28 L489.28,248.27 L488.12,248.26 L486.96,248.25 L485.80,248.24 L484.64,248.23 L483.48,248.22 L482.32,248.21 L481.17,248.20 L480.01,248.19 L478.85,248.18 L477.69,248.17 L476.53,248.16 L475.37,248.14 L474.21,248.13 L473.05,248.12 L471.89,248.11 L470.73,248.10 L469.57,248.09 L468.41,248.08 L467.26,248.06 L466.10,248.05 L464.94,248.04 L463.78,248.03 L462.62,248.02 L461.46,248.00 L460.30,247.99 L459.14,247.98 L457.98,247.97 L456.82,247.95 L455.66,247.94 L454.50,247.93 L453.35,247.91 L452.19,247.90 L451.03,247.89 L449.87,247.87 L448.71,247.86 L447.55,247.85 L446.39,247.83 L445.23,247.82 L444.07,247.81 L442.91,247.79 L441.75,247.78 L440.59,247.76 L439.44,247.75 L438.28,247.73 L437.12,247.72 L435.96,247.70 L434.80,247.69 L433.64,247.67 L432.48,247.66 L431.32,247.64 L430.16,247.63 L429.00,247.61 L427.84,247.60 L426.68,247.58 L425.53,247.56 L424.37,247.55 L423.21,247.53 L422.05,247.51 L420.89,247.50 L419.73,247.48 L418.57,247.46 L417.41,247.45 L416.25,247.43 L415.09,247.41 L413.93,247.40 L412.77,247.38 L411.62,247.36 L410.46,247.34 L409.30,247.32 L408.14,247.30 L406.98,247.29 L405.82,247.27 L404.66,247.25 L403.50,247.23 L402.34,247.21 L401.18,247.19 L400.02,247.17 L398.87,247.15 L397.71,247.13 L396.55,247.11 L395.39,247.09 L394.23,247.07 L393.07,247.05 L391.91,247.03 L390.75,247.01 L389.59,246.99 L388.43,246.96 L387.27,246.94 L386.12,246.92 L384.96,246.90 L383.80,246.88 L382.64,246.85 L381.48,246.83 L380.32,246.81 L379.16,246.78 L378.00,246.76 L376.84,246.74 L375.68,246.71 L374.53,246.69 L373.37,246.66 L372.21,246.64 L371.05,246.61 L369.89,246.59 L368.73,246.56 L367.57,246.54 L366.41,246.51 L365.25,246.48 L364.09,246.46 L362.93,246.43 L361.78,246.40 L360.62,246.38 L359.46,246.35 L358.30,246.32 L357.14,246.29 L355.98,246.26 L354.82,246.24 L353.66,246.21 L352.50,246.18 L351.34,246.15 L350.19,246.12 L349.03,246.09 L347.87,246.06 L346.71,246.03 L345.55,245.99 L344.39,245.96 L343.23,245.93 L342.07,245.90 L340.91,245.87 L339.75,245.83 L338.60,245.80 L337.44,245.76 L336.28,245.73 L335.12,245.70 L333.96,245.66 L332.80,245.63 L331.64,245.59 L330.48,245.55 L329.32,245.52 L328.17,245.48 L327.01,245.44 L325.85,245.41 L324.69,245.37 L323.53,245.33 L322.37,245.29 L321.21,245.25 L320.05,245.21 L318.89,245.17 L317.74,245.13 L316.58,245.09 L315.42,245.05 L314.26,245.00 L313.10,244.96 L311.94,244.92 L310.78,244.87 L309.62,244.83 L308.47,244.78 L307.31,244.74 L306.15,244.69 L304.99,244.65 L303.83,244.60 L302.67,244.55 L301.51,244.50 L300.35,244.45 L299.19,244.40 L298.04,244.35 L296.88,244.30 L295.72,244.25 L294.56,244.20 L293.40,244.15 L292.24,244.10 L291.08,244.04 L289.93,243.99 L288.77,243.93 L287.61,243.88 L286.45,243.82 L285.29,243.76 L284.13,243.70 L282.97,243.65 L281.81,243.59 L280.66,243.53 L279.50,243.46 L278.34,243.40 L277.18,243.34 L276.02,243.28 L274.86,243.22 L273.70,243.16 L272.54,243.10 L271.38,243.04 L270.22,242.98 L269.06,242.92 L267.90,242.86 L266.75,242.80 L265.59,242.73 L264.43,242.67 L263.27,242.61 L262.11,242.55 L260.95,242.49 L259.79,242.42 L258.63,242.36 L257.47,242.30 L256.32,242.23 L255.16,242.17 L254.00,242.10 L252.84,242.03 L251.68,241.96 L250.52,241.89 L249.36,241.82 L248.21,241.75 L247.05,241.68 L245.89,241.61 L244.73,241.53 L243.57,241.45 L242.42,241.38 L241.26,241.29 L240.10,241.21 L238.94,241.13 L237.79,241.04 L236.63,240.96 L235.47,240.87 L234.31,240.77 L233.16,240.68 L232.00,240.58 L230.84,240.49 L229.68,240.39 L228.53,240.28 L227.37,240.18 L226.21,240.07 L225.06,239.96 L223.90,239.84 L222.74,239.73 L221.59,239.61 L220.43,239.48 L219.27,239.36 L218.12,239.23 L216.96,239.10 L215.80,238.96 L214.65,238.83 L213.49,238.69 L212.33,238.54 L211.17,238.40 L210.02,238.25 L208.86,238.10 L207.70,237.95 L206.55,237.79 L205.39,237.63 L204.23,237.47 L203.07,237.31 L201.92,237.14 L200.76,236.97 L199.60,236.80 L198.45,236.63 L197.29,236.45 L196.13,236.26 L194.98,236.08 L193.83,235.89 L192.67,235.69 L191.52,235.48 L190.37,235.27 L189.21,235.05Z" fill="#3c3c3c" stroke="none" shape-rendering="crispEdges"/>
<path d="M70.67,77.07 L70.81,77.91 L70.95,78.75 L71.09,79.57 L71.23,80.39 L71.37,81.21 L71.52,82.01 L71.66,82.81 L71.80,83.61 L71.94,84.39 L72.08,85.18 L72.22,85.95 L72.36,86.72 L72.50,87.48 L72.64,88.24 L72.78,88.99 L72.92,89.74 L73.07,90.48 L73.21,91.21 L73.35,91.94 L73.49,92.67 L73.63,93.38 L73.77,94.10 L73.91,94.80 L74.05,95.51 L74.19,96.20 L74.33,96.90 L74.48,97.58 L74.62,98.26 L74.76,98.94 L74.90,99.61 L75.04,100.28 L75.18,100.94 L75.32,101.60 L75.46,102.25 L75.60,102.90 L75.74,103.54 L75.89,104.18 L76.03,104.82 L76.17,105.45 L76.31,106.07 L76.45,106.69 L76.59,107.31 L76.73,107.92 L76.87,108.53 L77.01,109.13 L77.16,109.73 L77.30,110.33 L77.44,110.92 L77.58,111.51 L77.72,112.09 L77.86,112.67 L78.00,113.25 L78.14,113.82 L78.28,114.39 L78.42,114.95 L78.57,115.51 L78.71,116.07 L78.85,116.62 L78.99,117.17 L79.13,117.72 L79.27,118.26 L79.41,118.80 L79.55,119.34 L79.69,119.87 L79.84,120.40 L79.98,120.92 L80.12,121.44 L80.26,121.96 L80.40,122.48 L80.54,122.99 L80.68,123.50 L80.82,124.00 L80.97,124.51 L81.11,125.01 L81.25,125.50 L81.39,126.00 L81.53,126.49 L81.67,126.97 L81.81,127.46 L81.95,127.94 L82.09,128.42 L82.24,128.89 L82.38,129.36 L82.52,129.83 L82.66,130.30 L82.80,130.76 L82.94,131.22 L83.08,131.68 L83.22,132.14 L83.37,132.59 L83.51,133.04 L83.65,133.49 L83.79,133.93 L83.93,134.37 L84.07,134.81 L84.21,135.25 L84.35,135.68 L84.50,136.11 L84.64,136.54 L84.78,136.97 L84.92,137.39 L85.06,137.81 L85.20,138.23 L85.34,138.65 L85.48,139.06 L85.63,139.48 L85.77,139.89 L85.91,140.29 L86.05,140.70 L86.19,141.10 L86.33,141.50 L86.47,141.90 L86.61,142.30 L86.76,142.69 L86.90,143.08 L87.04,143.47 L87.18,143.86 L87.32,144.24 L87.46,144.63 L87.92,145.86 L88.38,147.07 L88.84,148.25 L89.30,149.42 L89.76,150.57 L90.22,151.70 L90.68,152.80 L91.14,153.89 L91.60,154.97 L92.06,156.02 L92.52,157.05 L92.98,158.07 L93.44,159.08 L93.91,160.06 L94.37,161.03 L94.83,161.99 L95.29,162.93 L95.75,163.85 L96.21,164.76 L96.67,165.66 L97.13,166.54 L97.59,167.41 L98.05,168.26 L98.51,169.10 L98.97,169.93 L99.44,170.75 L99.90,171.55 L100.36,172.35 L100.82,173.13 L101.28,173.90 L101.74,174.66 L102.20,175.40 L102.66,176.14 L103.12,176.87 L103.59,177.58 L104.05,178.29 L104.51,178.98 L104.97,179.67 L105.43,180.35 L105.89,181.01 L106.36,181.67 L106.82,182.32 L107.28,182.96 L107.74,183.59 L108.20,184.22 L108.66,184.83 L109.13,185.44 L109.59,186.03 L110.05,186.63 L110.51,187.21 L110.97,187.78 L111.44,188.35 L111.90,188.91 L112.36,189.46 L112.82,190.01 L113.28,190.55 L113.75,191.08 L114.21,191.61 L114.67,192.13 L115.13,192.64 L115.59,193.14 L116.06,193.64 L116.52,194.14 L116.98,194.62 L117.44,195.11 L117.90,195.58 L118.37,196.05 L118.83,196.51 L119.29,196.97 L119.75,197.43 L120.21,197.87 L120.68,198.32 L121.14,198.75 L121.60,199.18 L122.06,199.61 L122.53,200.03 L122.99,200.45 L123.45,200.86 L123.91,201.27 L124.37,201.67 L124.84,202.07 L125.30,202.46 L125.76,202.85 L126.22,203.24 L126.68,203.62 L127.15,203.99 L127.61,204.37 L128.07,204.73 L128.53,205.10 L129.00,205.46 L129.46,205.81 L129.92,206.16 L130.38,206.51 L130.84,206.86 L131.31,207.20 L131.77,207.53 L132.23,207.87 L132.69,208.20 L133.15,208.52 L133.62,208.84 L134.08,209.16 L134.54,209.48 L135.00,209.79 L135.46,210.10 L135.93,210.41 L136.39,210.71 L136.85,211.01 L137.31,211.30 L137.77,211.60 L138.23,211.89 L138.70,212.18 L139.16,212.46 L139.62,212.74 L140.08,213.02 L140.54,213.30 L141.00,213.57 L141.47,213.84 L141.93,214.11 L142.39,214.37 L142.85,214.63 L143.31,214.89 L143.77,215.15 L144.24,215.41 L144.70,215.66 L145.16,215.91 L145.62,216.15 L146.08,216.40 L146.54,216.64 L147.00,216.88 L147.47,217.12 L147.93,217.36 L148.39,217.59 L148.85,217.82 L149.31,218.05 L149.77,218.28 L150.23,218.50 L150.69,218.72 L151.16,218.94 L151.62,219.16 L152.08,219.38 L152.54,219.59 L153.00,219.80 L153.46,220.01 L153.92,220.22 L154.38,220.43 L154.84,220.63 L155.30,220.84 L155.77,221.04 L156.23,221.24 L156.69,221.43 L157.15,221.63 L157.61,221.82 L158.07,222.01 L158.53,222.21 L158.99,222.39 L159.45,222.58 L159.91,222.77 L160.37,222.95 L160.84,223.13 L162.00,223.59 L163.17,224.03 L164.33,224.46 L165.50,224.89 L166.66,225.31 L167.82,225.72 L168.98,226.13 L170.15,226.54 L171.31,226.94 L172.47,227.34 L173.63,227.73 L174.80,228.12 L175.96,228.51 L177.12,228.89 L178.29,229.26 L179.45,229.62 L180.61,229.98 L181.78,230.34 L182.94,230.69 L184.11,231.02 L185.27,231.36 L186.44,231.68 L187.61,231.99 L188.77,232.30 L189.28,230.37 L188.12,230.06 L186.97,229.75 L185.81,229.43 L184.66,229.10 L183.51,228.77 L182.35,228.42 L181.20,228.07 L180.05,227.72 L178.89,227.35 L177.74,226.98 L176.58,226.61 L175.43,226.23 L174.27,225.84 L173.11,225.45 L171.96,225.05 L170.80,224.65 L169.65,224.25 L168.49,223.84 L167.33,223.43 L166.18,223.01 L165.02,222.59 L163.87,222.16 L162.72,221.72 L161.56,221.27 L161.11,221.09 L160.66,220.91 L160.20,220.73 L159.75,220.54 L159.29,220.36 L158.84,220.17 L158.38,219.98 L157.93,219.79 L157.47,219.59 L157.02,219.40 L156.56,219.20 L156.11,219.00 L155.65,218.80 L155.20,218.60 L154.74,218.40 L154.29,218.19 L153.83,217.99 L153.38,217.78 L152.92,217.57 L152.47,217.35 L152.01,217.14 L151.56,216.92 L151.11,216.70 L150.65,216.48 L150.20,216.26 L149.74,216.03 L149.29,215.80 L148.83,215.57 L148.38,215.34 L147.92,215.11 L147.47,214.87 L147.02,214.63 L146.56,214.39 L146.11,214.15 L145.65,213.90 L145.20,213.65 L144.74,213.40 L144.29,213.15 L143.84,212.89 L143.38,212.63 L142.93,212.37 L142.47,212.11 L142.02,211.85 L141.57,211.58 L141.11,211.31 L140.66,211.03 L140.20,210.75 L139.75,210.47 L139.30,210.19 L138.84,209.91 L138.39,209.62 L137.93,209.33 L137.48,209.03 L137.03,208.74 L136.57,208.43 L136.12,208.13 L135.66,207.82 L135.21,207.51 L134.76,207.20 L134.30,206.88 L133.85,206.56 L133.40,206.24 L132.94,205.91 L132.49,205.58 L132.03,205.25 L131.58,204.91 L131.13,204.57 L130.67,204.22 L130.22,203.87 L129.77,203.52 L129.31,203.16 L128.86,202.80 L128.41,202.44 L127.95,202.07 L127.50,201.70 L127.04,201.32 L126.59,200.94 L126.14,200.55 L125.68,200.16 L125.23,199.77 L124.78,199.37 L124.32,198.96 L123.87,198.55 L123.42,198.14 L122.96,197.72 L122.51,197.30 L122.06,196.87 L121.60,196.43 L121.15,195.99 L120.69,195.55 L120.24,195.10 L119.79,194.64 L119.33,194.18 L118.88,193.72 L118.43,193.24 L117.97,192.76 L117.52,192.28 L117.07,191.79 L116.61,191.29 L116.16,190.79 L115.70,190.28 L115.25,189.77 L114.80,189.24 L114.34,188.71 L113.89,188.18 L113.44,187.63 L112.98,187.08 L112.53,186.53 L112.07,185.96 L111.62,185.39 L111.17,184.81 L110.71,184.22 L110.26,183.62 L109.81,183.02 L109.35,182.41 L108.90,181.79 L108.44,181.16 L107.99,180.52 L107.53,179.87 L107.08,179.21 L106.63,178.55 L106.17,177.87 L105.72,177.19 L105.26,176.49 L104.81,175.79 L104.36,175.07 L103.90,174.35 L103.45,173.61 L102.99,172.86 L102.54,172.11 L102.08,171.34 L101.63,170.55 L101.17,169.76 L100.72,168.95 L100.26,168.14 L99.81,167.31 L99.35,166.46 L98.90,165.61 L98.45,164.73 L97.99,163.85 L97.54,162.95 L97.08,162.04 L96.63,161.11 L96.17,160.17 L95.71,159.21 L95.26,158.23 L94.80,157.24 L94.35,156.24 L93.89,155.21 L93.44,154.17 L92.98,153.11 L92.53,152.03 L92.07,150.94 L91.62,149.82 L91.16,148.68 L90.71,147.53 L90.25,146.35 L89.79,145.15 L89.34,143.93 L89.20,143.55 L89.06,143.17 L88.92,142.79 L88.78,142.40 L88.64,142.01 L88.50,141.62 L88.36,141.23 L88.22,140.83 L88.08,140.44 L87.94,140.04 L87.80,139.64 L87.66,139.23 L87.52,138.83 L87.38,138.42 L87.24,138.01 L87.10,137.59 L86.96,137.18 L86.82,136.76 L86.68,136.34 L86.54,135.92 L86.40,135.49 L86.26,135.06 L86.11,134.63 L85.97,134.20 L85.83,133.76 L85.69,133.32 L85.55,132.88 L85.41,132.44 L85.27,131.99 L85.13,131.54 L84.99,131.09 L84.85,130.63 L84.71,130.18 L84.57,129.72 L84.43,129.25 L84.29,128.79 L84.15,128.32 L84.01,127.85 L83.87,127.37 L83.73,126.89 L83.59,126.41 L83.45,125.93 L83.31,125.44 L83.17,124.95 L83.03,124.46 L82.89,123.96 L82.75,123.47 L82.61,122.96 L82.47,122.46 L82.33,121.95 L82.19,121.44 L82.05,120.92 L81.91,120.40 L81.77,119.88 L81.63,119.35 L81.49,118.83 L81.35,118.29 L81.21,117.76 L81.07,117.22 L80.93,116.68 L80.79,116.13 L80.65,115.58 L80.51,115.02 L80.36,114.47 L80.22,113.91 L80.08,113.34 L79.94,112.77 L79.80,112.20 L79.66,111.62 L79.52,111.04 L79.38,110.46 L79.24,109.87 L79.10,109.27 L78.96,108.68 L78.82,108.08 L78.68,107.47 L78.54,106.86 L78.40,106.25 L78.26,105.63 L78.12,105.01 L77.98,104.38 L77.84,103.75 L77.70,103.11 L77.56,102.47 L77.42,101.83 L77.28,101.18 L77.14,100.52 L77.00,99.86 L76.86,99.20 L76.72,98.53 L76.57,97.86 L76.43,97.18 L76.29,96.49 L76.15,95.81 L76.01,95.11 L75.87,94.41 L75.73,93.71 L75.59,93.00 L75.45,92.28 L75.31,91.56 L75.17,90.84 L75.03,90.10 L74.89,89.37 L74.75,88.62 L74.61,87.87 L74.47,87.12 L74.33,86.36 L74.19,85.59 L74.05,84.82 L73.91,84.04 L73.77,83.26 L73.63,82.46 L73.49,81.67 L73.34,80.86 L73.20,80.05 L73.06,79.24 L72.92,78.41 L72.78,77.58 L72.64,76.74Z" fill="#777777" stroke="none"/>
<path d="M188.78,232.30 L189.94,232.60 L191.10,232.89 L192.27,233.17 L193.44,233.44 L194.60,233.70 L195.77,233.95 L196.93,234.20 L198.09,234.44 L199.26,234.68 L200.42,234.91 L201.58,235.14 L202.74,235.37 L203.91,235.59 L205.07,235.81 L206.23,236.03 L207.39,236.24 L208.56,236.44 L209.72,236.65 L210.88,236.85 L212.04,237.04 L213.20,237.24 L214.37,237.43 L215.53,237.61 L216.69,237.80 L217.85,237.98 L219.02,238.15 L220.18,238.32 L221.34,238.49 L222.50,238.65 L223.67,238.81 L224.83,238.97 L225.99,239.12 L227.15,239.27 L228.31,239.42 L229.48,239.56 L230.64,239.70 L231.80,239.84 L232.96,239.97 L234.12,240.10 L235.28,240.23 L236.45,240.36 L237.61,240.48 L238.77,240.60 L239.93,240.72 L241.09,240.83 L242.25,240.95 L243.41,241.06 L244.57,241.17 L245.74,241.28 L246.90,241.38 L248.06,241.48 L249.22,241.59 L250.38,241.69 L251.54,241.78 L252.70,241.88 L253.86,241.98 L255.02,242.07 L256.18,242.16 L257.34,242.25 L258.50,242.34 L259.66,242.43 L260.82,242.52 L261.98,242.61 L263.14,242.70 L264.30,242.78 L265.46,242.87 L266.62,242.95 L267.78,243.04 L268.94,243.12 L270.10,243.21 L271.26,243.29 L272.42,243.37 L273.58,243.45 L274.74,243.54 L275.90,243.62 L277.06,243.70 L278.22,243.78 L279.37,243.86 L280.53,243.94 L281.69,244.02 L282.85,244.10 L284.02,244.18 L285.18,244.26 L286.34,244.33 L287.50,244.41 L288.66,244.48 L289.82,244.55 L290.98,244.63 L292.14,244.70 L293.30,244.77 L294.46,244.84 L295.62,244.91 L296.78,244.97 L297.94,245.04 L299.10,245.11 L300.26,245.17 L301.42,245.24 L302.58,245.30 L303.74,245.36 L304.90,245.42 L306.06,245.49 L307.22,245.55 L308.38,245.61 L309.53,245.66 L310.69,245.72 L311.85,245.78 L313.01,245.84 L314.17,245.89 L315.33,245.95 L316.49,246.00 L317.65,246.06 L318.81,246.11 L319.97,246.16 L321.13,246.22 L322.29,246.27 L323.45,246.32 L324.61,246.37 L325.77,246.42 L326.93,246.47 L328.09,246.52 L329.25,246.57 L330.41,246.61 L331.57,246.66 L332.73,246.71 L333.89,246.75 L335.05,246.80 L336.21,246.84 L337.37,246.89 L338.53,246.93 L339.69,246.98 L340.85,247.02 L342.01,247.06 L343.17,247.10 L344.33,247.14 L345.49,247.19 L346.65,247.23 L347.81,247.27 L348.97,247.31 L350.13,247.35 L351.29,247.38 L352.45,247.42 L353.60,247.46 L354.76,247.50 L355.92,247.54 L357.08,247.57 L358.24,247.61 L359.40,247.65 L360.56,247.68 L361.72,247.72 L362.88,247.75 L364.04,247.79 L365.20,247.82 L366.36,247.85 L367.52,247.89 L368.68,247.92 L369.84,247.95 L371.00,247.99 L372.16,248.02 L373.32,248.05 L374.48,248.08 L375.64,248.11 L376.80,248.14 L377.96,248.17 L379.12,248.20 L380.27,248.23 L381.43,248.26 L382.59,248.29 L383.75,248.32 L384.91,248.35 L386.07,248.38 L387.23,248.41 L388.39,248.43 L389.55,248.46 L390.71,248.49 L391.87,248.52 L393.03,248.54 L394.19,248.57 L395.35,248.60 L396.51,248.62 L397.67,248.65 L398.83,248.67 L399.99,248.70 L401.15,248.72 L402.31,248.75 L403.46,248.77 L404.62,248.80 L405.78,248.82 L406.94,248.84 L408.10,248.87 L409.26,248.89 L410.42,248.91 L411.58,248.94 L412.74,248.96 L413.90,248.98 L415.06,249.00 L416.22,249.03 L417.38,249.05 L418.54,249.07 L419.70,249.09 L420.86,249.11 L422.02,249.13 L423.18,249.15 L424.33,249.17 L425.49,249.19 L426.65,249.21 L427.81,249.23 L428.97,249.25 L430.13,249.27 L431.29,249.29 L432.45,249.31 L433.61,249.33 L434.77,249.35 L435.93,249.37 L437.09,249.39 L438.25,249.41 L439.41,249.42 L440.57,249.44 L441.73,249.46 L442.89,249.48 L444.04,249.50 L445.20,249.51 L446.36,249.53 L447.52,249.55 L448.68,249.56 L449.84,249.58 L451.00,249.60 L452.16,249.62 L453.32,249.63 L454.48,249.65 L455.64,249.66 L456.80,249.68 L457.96,249.70 L459.12,249.71 L460.28,249.73 L461.44,249.74 L462.59,249.76 L463.75,249.77 L464.91,249.79 L466.07,249.80 L467.23,249.82 L468.39,249.83 L469.55,249.85 L470.71,249.86 L471.87,249.88 L473.03,249.89 L474.19,249.90 L475.35,249.92 L476.51,249.93 L477.67,249.94 L478.83,249.96 L479.99,249.97 L481.14,249.99 L482.30,250.00 L483.46,250.01 L484.62,250.02 L485.78,250.04 L486.94,250.05 L488.10,250.06 L489.26,250.08 L490.42,250.09 L491.58,250.10 L492.74,250.11 L493.90,250.12 L495.06,250.14 L496.22,250.15 L497.38,250.16 L498.53,250.17 L499.69,250.18 L500.85,250.20 L502.01,250.21 L503.17,250.22 L504.33,250.23 L505.49,250.24 L506.65,250.25 L507.81,250.26 L507.83,248.26 L506.67,248.25 L505.51,248.24 L504.35,248.23 L503.19,248.22 L502.03,248.21 L500.87,248.20 L499.71,248.18 L498.56,248.17 L497.40,248.16 L496.24,248.15 L495.08,248.14 L493.92,248.12 L492.76,248.11 L491.60,248.10 L490.44,248.09 L489.28,248.08 L488.12,248.06 L486.96,248.05 L485.80,248.04 L484.64,248.02 L483.49,248.01 L482.33,248.00 L481.17,247.99 L480.01,247.97 L478.85,247.96 L477.69,247.94 L476.53,247.93 L475.37,247.92 L474.21,247.90 L473.05,247.89 L471.89,247.88 L470.74,247.86 L469.58,247.85 L468.42,247.83 L467.26,247.82 L466.10,247.80 L464.94,247.79 L463.78,247.77 L462.62,247.76 L461.46,247.74 L460.30,247.73 L459.14,247.71 L457.98,247.70 L456.83,247.68 L455.67,247.66 L454.51,247.65 L453.35,247.63 L452.19,247.62 L451.03,247.60 L449.87,247.58 L448.71,247.57 L447.55,247.55 L446.39,247.53 L445.23,247.51 L444.07,247.50 L442.92,247.48 L441.76,247.46 L440.60,247.44 L439.44,247.42 L438.28,247.41 L437.12,247.39 L435.96,247.37 L434.80,247.35 L433.64,247.33 L432.48,247.31 L431.32,247.29 L430.17,247.27 L429.01,247.25 L427.85,247.23 L426.69,247.21 L425.53,247.19 L424.37,247.17 L423.21,247.15 L422.05,247.13 L420.89,247.11 L419.73,247.09 L418.57,247.07 L417.42,247.05 L416.26,247.03 L415.10,247.00 L413.94,246.98 L412.78,246.96 L411.62,246.94 L410.46,246.91 L409.30,246.89 L408.14,246.87 L406.98,246.84 L405.82,246.82 L404.67,246.80 L403.51,246.77 L402.35,246.75 L401.19,246.72 L400.03,246.70 L398.87,246.67 L397.71,246.65 L396.55,246.62 L395.39,246.60 L394.23,246.57 L393.08,246.54 L391.92,246.52 L390.76,246.49 L389.60,246.46 L388.44,246.43 L387.28,246.41 L386.12,246.38 L384.96,246.35 L383.80,246.32 L382.64,246.29 L381.48,246.26 L380.33,246.23 L379.17,246.20 L378.01,246.17 L376.85,246.14 L375.69,246.11 L374.53,246.08 L373.37,246.05 L372.21,246.02 L371.05,245.99 L369.90,245.95 L368.74,245.92 L367.58,245.89 L366.42,245.85 L365.26,245.82 L364.10,245.79 L362.94,245.75 L361.78,245.72 L360.62,245.68 L359.46,245.65 L358.31,245.61 L357.15,245.57 L355.99,245.54 L354.83,245.50 L353.67,245.46 L352.51,245.42 L351.35,245.39 L350.19,245.35 L349.03,245.31 L347.88,245.27 L346.72,245.23 L345.56,245.19 L344.40,245.15 L343.24,245.10 L342.08,245.06 L340.92,245.02 L339.76,244.98 L338.60,244.93 L337.45,244.89 L336.29,244.85 L335.13,244.80 L333.97,244.75 L332.81,244.71 L331.65,244.66 L330.49,244.62 L329.33,244.57 L328.18,244.52 L327.02,244.47 L325.86,244.42 L324.70,244.37 L323.54,244.32 L322.38,244.27 L321.22,244.22 L320.06,244.17 L318.91,244.11 L317.75,244.06 L316.59,244.01 L315.43,243.95 L314.27,243.90 L313.11,243.84 L311.95,243.78 L310.79,243.72 L309.64,243.67 L308.48,243.61 L307.32,243.55 L306.16,243.49 L305.00,243.43 L303.84,243.36 L302.68,243.30 L301.53,243.24 L300.37,243.17 L299.21,243.11 L298.05,243.04 L296.89,242.98 L295.73,242.91 L294.57,242.84 L293.42,242.77 L292.26,242.70 L291.10,242.63 L289.94,242.56 L288.78,242.49 L287.62,242.41 L286.47,242.34 L285.31,242.26 L284.15,242.18 L282.99,242.11 L281.83,242.03 L280.67,241.95 L279.51,241.87 L278.36,241.79 L277.20,241.70 L276.04,241.62 L274.88,241.54 L273.72,241.46 L272.56,241.38 L271.40,241.29 L270.24,241.21 L269.08,241.13 L267.92,241.04 L266.77,240.96 L265.61,240.88 L264.45,240.79 L263.29,240.70 L262.13,240.62 L260.97,240.53 L259.81,240.44 L258.66,240.35 L257.50,240.26 L256.34,240.17 L255.18,240.08 L254.02,239.98 L252.86,239.89 L251.71,239.79 L250.55,239.69 L249.39,239.59 L248.23,239.49 L247.07,239.39 L245.92,239.28 L244.76,239.18 L243.60,239.07 L242.44,238.96 L241.29,238.84 L240.13,238.73 L238.97,238.61 L237.82,238.49 L236.66,238.37 L235.50,238.24 L234.34,238.12 L233.19,237.99 L232.03,237.85 L230.87,237.72 L229.72,237.58 L228.56,237.43 L227.40,237.29 L226.25,237.14 L225.09,236.99 L223.94,236.83 L222.78,236.67 L221.62,236.51 L220.47,236.34 L219.31,236.17 L218.15,236.00 L217.00,235.82 L215.84,235.64 L214.69,235.45 L213.53,235.26 L212.37,235.07 L211.22,234.88 L210.06,234.68 L208.90,234.47 L207.75,234.27 L206.59,234.06 L205.44,233.84 L204.28,233.63 L203.12,233.41 L201.97,233.18 L200.81,232.95 L199.66,232.72 L198.50,232.48 L197.34,232.24 L196.19,231.99 L195.03,231.74 L193.88,231.49 L192.73,231.22 L191.58,230.94 L190.43,230.66 L189.27,230.36Z" fill="#777777" stroke="none" shape-rendering="crispEdges"/>
<path d="M70.86,16.45 L71.00,17.56 L71.14,18.67 L71.28,19.77 L71.43,20.86 L71.57,21.94 L71.71,23.01 L71.85,24.08 L71.99,25.14 L72.13,26.18 L72.27,27.23 L72.41,28.26 L72.55,29.28 L72.69,30.30 L72.83,31.31 L72.97,32.31 L73.12,33.31 L73.26,34.29 L73.40,35.27 L73.54,36.25 L73.68,37.21 L73.82,38.17 L73.96,39.12 L74.10,40.07 L74.24,41.00 L74.38,41.93 L74.52,42.86 L74.66,43.78 L74.81,44.69 L74.95,45.59 L75.09,46.49 L75.23,47.38 L75.37,48.27 L75.51,49.15 L75.65,50.02 L75.79,50.89 L75.93,51.75 L76.07,52.60 L76.21,53.45 L76.35,54.29 L76.50,55.13 L76.64,55.96 L76.78,56.79 L76.92,57.61 L77.06,58.42 L77.20,59.23 L77.34,60.04 L77.48,60.84 L77.62,61.63 L77.76,62.42 L77.90,63.20 L78.04,63.98 L78.19,64.75 L78.33,65.52 L78.47,66.28 L78.61,67.04 L78.75,67.79 L78.89,68.53 L79.03,69.28 L79.17,70.01 L79.31,70.75 L79.45,71.48 L79.59,72.20 L79.74,72.92 L79.88,73.63 L80.02,74.34 L80.16,75.05 L80.30,75.75 L80.44,76.44 L80.58,77.14 L80.72,77.82 L80.86,78.51 L81.00,79.19 L81.14,79.86 L81.29,80.53 L81.43,81.20 L81.57,81.86 L81.71,82.52 L81.85,83.17 L81.99,83.82 L82.13,84.47 L82.27,85.11 L82.41,85.75 L82.55,86.38 L82.69,87.02 L82.84,87.64 L82.98,88.27 L83.12,88.89 L83.26,89.50 L83.40,90.11 L83.54,90.72 L83.68,91.33 L83.82,91.93 L83.96,92.53 L84.10,93.12 L84.25,93.71 L84.39,94.30 L84.53,94.88 L84.67,95.46 L84.81,96.04 L84.95,96.61 L85.09,97.18 L85.23,97.75 L85.37,98.32 L85.51,98.88 L85.65,99.43 L85.80,99.99 L85.94,100.54 L86.08,101.09 L86.22,101.63 L86.36,102.17 L86.50,102.71 L86.64,103.25 L86.78,103.78 L86.92,104.31 L87.06,104.84 L87.21,105.36 L87.35,105.88 L87.49,106.40 L87.63,106.92 L88.09,108.58 L88.55,110.20 L89.01,111.80 L89.46,113.38 L89.92,114.92 L90.38,116.44 L90.84,117.93 L91.30,119.40 L91.76,120.84 L92.22,122.26 L92.68,123.65 L93.14,125.03 L93.60,126.38 L94.05,127.70 L94.51,129.01 L94.97,130.30 L95.43,131.56 L95.89,132.81 L96.35,134.03 L96.81,135.24 L97.27,136.43 L97.73,137.60 L98.19,138.75 L98.65,139.88 L99.11,141.00 L99.57,142.10 L100.03,143.19 L100.49,144.25 L100.95,145.31 L101.41,146.34 L101.87,147.36 L102.32,148.37 L102.78,149.36 L103.24,150.34 L103.70,151.31 L104.16,152.26 L104.62,153.19 L105.08,154.12 L105.54,155.03 L106.00,155.93 L106.46,156.82 L106.92,157.69 L107.38,158.55 L107.84,159.40 L108.30,160.24 L108.76,161.07 L109.22,161.89 L109.68,162.69 L110.14,163.49 L110.60,164.27 L111.06,165.05 L111.52,165.81 L111.98,166.57 L112.45,167.31 L112.91,168.05 L113.37,168.77 L113.83,169.49 L114.29,170.20 L114.75,170.90 L115.21,171.59 L115.67,172.27 L116.13,172.94 L116.59,173.61 L117.05,174.26 L117.51,174.91 L117.97,175.55 L118.43,176.18 L118.89,176.81 L119.35,177.43 L119.81,178.04 L120.27,178.64 L120.73,179.24 L121.20,179.82 L121.66,180.41 L122.12,180.98 L122.58,181.55 L123.04,182.11 L123.50,182.67 L123.96,183.22 L124.42,183.76 L124.88,184.29 L125.34,184.82 L125.80,185.35 L126.26,185.87 L126.72,186.38 L127.19,186.89 L127.65,187.39 L128.11,187.88 L128.57,188.37 L129.03,188.86 L129.49,189.34 L129.95,189.81 L130.41,190.28 L130.87,190.74 L131.33,191.20 L131.80,191.66 L132.26,192.11 L132.72,192.55 L133.18,192.99 L133.64,193.42 L134.10,193.85 L134.56,194.28 L135.02,194.70 L135.48,195.12 L135.94,195.53 L136.40,195.94 L136.87,196.34 L137.33,196.74 L137.79,197.14 L138.25,197.53 L138.71,197.92 L139.17,198.30 L139.63,198.68 L140.09,199.05 L140.55,199.43 L141.01,199.79 L141.48,200.16 L141.94,200.52 L142.40,200.88 L142.86,201.23 L143.32,201.58 L143.78,201.93 L144.24,202.27 L144.70,202.61 L145.16,202.95 L145.62,203.28 L146.08,203.61 L146.54,203.94 L147.01,204.26 L147.47,204.58 L147.93,204.90 L148.39,205.22 L148.85,205.53 L149.31,205.84 L149.77,206.14 L150.23,206.45 L150.69,206.75 L151.15,207.04 L151.61,207.34 L152.07,207.63 L152.53,207.92 L153.00,208.21 L153.46,208.49 L153.92,208.77 L154.38,209.05 L154.84,209.33 L155.30,209.60 L155.76,209.87 L156.22,210.14 L156.68,210.40 L157.14,210.67 L157.60,210.93 L158.06,211.19 L158.52,211.45 L158.98,211.70 L159.44,211.95 L159.90,212.20 L160.36,212.45 L160.83,212.70 L161.99,213.31 L163.16,213.91 L164.32,214.49 L165.49,215.07 L166.65,215.63 L167.81,216.19 L168.97,216.74 L170.14,217.28 L171.30,217.82 L172.46,218.35 L173.63,218.87 L174.79,219.38 L175.95,219.89 L177.12,220.39 L178.28,220.88 L179.44,221.36 L180.61,221.83 L181.77,222.30 L182.94,222.75 L184.10,223.20 L185.27,223.64 L186.43,224.06 L187.60,224.48 L188.76,224.88 L189.28,223.37 L188.13,222.97 L186.98,222.56 L185.82,222.14 L184.67,221.70 L183.51,221.26 L182.36,220.81 L181.21,220.35 L180.05,219.88 L178.90,219.40 L177.74,218.91 L176.59,218.42 L175.43,217.92 L174.28,217.41 L173.12,216.89 L171.97,216.36 L170.81,215.83 L169.66,215.29 L168.50,214.74 L167.34,214.19 L166.19,213.63 L165.03,213.06 L163.88,212.48 L162.73,211.89 L161.57,211.28 L161.12,211.04 L160.66,210.79 L160.21,210.55 L159.75,210.30 L159.30,210.05 L158.84,209.79 L158.39,209.54 L157.93,209.28 L157.48,209.02 L157.02,208.75 L156.57,208.49 L156.11,208.22 L155.66,207.95 L155.20,207.68 L154.75,207.40 L154.29,207.13 L153.84,206.85 L153.38,206.56 L152.93,206.28 L152.47,205.99 L152.02,205.70 L151.56,205.40 L151.11,205.11 L150.65,204.81 L150.20,204.51 L149.74,204.20 L149.29,203.89 L148.83,203.58 L148.38,203.27 L147.92,202.95 L147.47,202.63 L147.01,202.31 L146.56,201.98 L146.10,201.66 L145.65,201.32 L145.19,200.99 L144.74,200.65 L144.28,200.31 L143.83,199.96 L143.37,199.61 L142.92,199.26 L142.46,198.90 L142.01,198.54 L141.55,198.18 L141.10,197.81 L140.65,197.44 L140.19,197.07 L139.74,196.69 L139.28,196.31 L138.83,195.92 L138.37,195.53 L137.92,195.14 L137.46,194.74 L137.01,194.33 L136.55,193.93 L136.10,193.52 L135.64,193.10 L135.19,192.68 L134.73,192.26 L134.28,191.83 L133.82,191.39 L133.37,190.96 L132.91,190.51 L132.46,190.07 L132.00,189.61 L131.55,189.16 L131.10,188.69 L130.64,188.23 L130.19,187.75 L129.73,187.27 L129.28,186.79 L128.82,186.30 L128.37,185.81 L127.91,185.31 L127.46,184.80 L127.00,184.29 L126.55,183.77 L126.09,183.25 L125.64,182.72 L125.18,182.18 L124.73,181.64 L124.27,181.09 L123.82,180.54 L123.36,179.98 L122.91,179.41 L122.45,178.84 L122.00,178.25 L121.54,177.67 L121.09,177.07 L120.63,176.47 L120.18,175.86 L119.72,175.24 L119.27,174.61 L118.81,173.98 L118.36,173.34 L117.90,172.69 L117.45,172.03 L116.99,171.37 L116.54,170.69 L116.08,170.01 L115.63,169.32 L115.17,168.62 L114.71,167.91 L114.26,167.19 L113.80,166.47 L113.35,165.73 L112.89,164.98 L112.44,164.23 L111.98,163.46 L111.53,162.68 L111.07,161.89 L110.62,161.10 L110.16,160.29 L109.70,159.47 L109.25,158.64 L108.79,157.79 L108.34,156.94 L107.88,156.07 L107.43,155.20 L106.97,154.31 L106.51,153.40 L106.06,152.49 L105.60,151.56 L105.15,150.61 L104.69,149.66 L104.23,148.69 L103.78,147.70 L103.32,146.70 L102.87,145.69 L102.41,144.66 L101.95,143.62 L101.50,142.56 L101.04,141.48 L100.59,140.39 L100.13,139.28 L99.67,138.15 L99.22,137.01 L98.76,135.85 L98.30,134.67 L97.85,133.47 L97.39,132.25 L96.93,131.01 L96.48,129.75 L96.02,128.48 L95.57,127.18 L95.11,125.86 L94.65,124.52 L94.20,123.15 L93.74,121.76 L93.28,120.35 L92.83,118.92 L92.37,117.46 L91.91,115.97 L91.46,114.46 L91.00,112.92 L90.54,111.36 L90.09,109.77 L89.63,108.15 L89.17,106.49 L89.03,105.98 L88.89,105.47 L88.75,104.95 L88.61,104.42 L88.47,103.90 L88.33,103.37 L88.19,102.84 L88.05,102.31 L87.91,101.77 L87.77,101.23 L87.63,100.69 L87.49,100.14 L87.35,99.59 L87.21,99.04 L87.07,98.49 L86.92,97.93 L86.78,97.36 L86.64,96.80 L86.50,96.23 L86.36,95.66 L86.22,95.08 L86.08,94.51 L85.94,93.92 L85.80,93.34 L85.66,92.75 L85.52,92.16 L85.38,91.56 L85.24,90.96 L85.10,90.36 L84.96,89.75 L84.82,89.14 L84.68,88.53 L84.54,87.91 L84.40,87.29 L84.26,86.67 L84.12,86.04 L83.97,85.40 L83.83,84.77 L83.69,84.13 L83.55,83.48 L83.41,82.84 L83.27,82.18 L83.13,81.53 L82.99,80.87 L82.85,80.20 L82.71,79.53 L82.57,78.86 L82.43,78.18 L82.29,77.50 L82.15,76.82 L82.01,76.13 L81.87,75.43 L81.73,74.73 L81.59,74.03 L81.45,73.32 L81.31,72.61 L81.16,71.89 L81.02,71.17 L80.88,70.44 L80.74,69.71 L80.60,68.98 L80.46,68.24 L80.32,67.49 L80.18,66.74 L80.04,65.99 L79.90,65.23 L79.76,64.46 L79.62,63.69 L79.48,62.91 L79.34,62.13 L79.20,61.35 L79.06,60.56 L78.92,59.76 L78.78,58.96 L78.64,58.15 L78.49,57.34 L78.35,56.52 L78.21,55.70 L78.07,54.87 L77.93,54.03 L77.79,53.19 L77.65,52.34 L77.51,51.49 L77.37,50.63 L77.23,49.76 L77.09,48.89 L76.95,48.01 L76.81,47.13 L76.67,46.24 L76.53,45.34 L76.39,44.44 L76.25,43.53 L76.11,42.62 L75.96,41.69 L75.82,40.76 L75.68,39.83 L75.54,38.89 L75.40,37.94 L75.26,36.98 L75.12,36.02 L74.98,35.04 L74.84,34.07 L74.70,33.08 L74.56,32.09 L74.42,31.09 L74.28,30.08 L74.14,29.06 L74.00,28.04 L73.86,27.01 L73.72,25.97 L73.57,24.92 L73.43,23.87 L73.29,22.81 L73.15,21.73 L73.01,20.65 L72.87,19.56 L72.73,18.47 L72.59,17.36 L72.45,16.25Z" fill="#b8b8b8" stroke="none"/>
<path d="M188.86,224.60 L190.02,224.99 L191.19,225.38 L192.35,225.75 L193.51,226.11 L194.68,226.46 L195.84,226.80 L197.00,227.13 L198.16,227.46 L199.32,227.78 L200.48,228.10 L201.65,228.41 L202.81,228.71 L203.97,229.01 L205.13,229.31 L206.29,229.60 L207.45,229.88 L208.61,230.16 L209.77,230.44 L210.94,230.71 L212.10,230.97 L213.26,231.23 L214.42,231.49 L215.58,231.74 L216.74,231.99 L217.90,232.23 L219.06,232.47 L220.23,232.70 L221.39,232.93 L222.55,233.15 L223.71,233.37 L224.87,233.58 L226.03,233.79 L227.19,234.00 L228.35,234.20 L229.51,234.39 L230.67,234.59 L231.84,234.78 L233.00,234.96 L234.16,235.14 L235.32,235.32 L236.48,235.49 L237.64,235.67 L238.80,235.83 L239.96,236.00 L241.12,236.16 L242.28,236.32 L243.44,236.47 L244.60,236.63 L245.76,236.78 L246.92,236.93 L248.08,237.07 L249.24,237.21 L250.40,237.35 L251.56,237.49 L252.72,237.63 L253.88,237.76 L255.04,237.90 L256.20,238.03 L257.36,238.16 L258.52,238.28 L259.68,238.41 L260.84,238.54 L262.00,238.66 L263.16,238.78 L264.32,238.90 L265.48,239.02 L266.64,239.14 L267.80,239.26 L268.96,239.37 L270.12,239.49 L271.28,239.60 L272.44,239.72 L273.60,239.83 L274.76,239.94 L275.92,240.06 L277.08,240.17 L278.24,240.28 L279.40,240.39 L280.56,240.50 L281.72,240.61 L282.88,240.71 L284.04,240.82 L285.20,240.92 L286.36,241.02 L287.52,241.13 L288.68,241.23 L289.84,241.32 L291.00,241.42 L292.16,241.52 L293.32,241.61 L294.47,241.71 L295.63,241.80 L296.79,241.89 L297.95,241.98 L299.11,242.07 L300.27,242.16 L301.43,242.25 L302.59,242.33 L303.75,242.42 L304.91,242.50 L306.07,242.58 L307.23,242.67 L308.39,242.75 L309.55,242.83 L310.71,242.91 L311.87,242.98 L313.03,243.06 L314.19,243.14 L315.35,243.21 L316.51,243.29 L317.67,243.36 L318.83,243.43 L319.99,243.50 L321.15,243.57 L322.31,243.64 L323.47,243.71 L324.63,243.78 L325.79,243.85 L326.95,243.92 L328.11,243.98 L329.26,244.05 L330.42,244.11 L331.58,244.18 L332.74,244.24 L333.90,244.30 L335.06,244.36 L336.22,244.42 L337.38,244.49 L338.54,244.54 L339.70,244.60 L340.86,244.66 L342.02,244.72 L343.18,244.78 L344.34,244.83 L345.50,244.89 L346.66,244.94 L347.82,245.00 L348.98,245.05 L350.14,245.11 L351.30,245.16 L352.46,245.21 L353.62,245.26 L354.77,245.31 L355.93,245.36 L357.09,245.41 L358.25,245.46 L359.41,245.51 L360.57,245.56 L361.73,245.61 L362.89,245.66 L364.05,245.70 L365.21,245.75 L366.37,245.80 L367.53,245.84 L368.69,245.89 L369.85,245.93 L371.01,245.98 L372.17,246.02 L373.33,246.06 L374.49,246.10 L375.65,246.15 L376.80,246.19 L377.96,246.23 L379.12,246.27 L380.28,246.31 L381.44,246.35 L382.60,246.39 L383.76,246.43 L384.92,246.47 L386.08,246.51 L387.24,246.55 L388.40,246.58 L389.56,246.62 L390.72,246.66 L391.88,246.70 L393.04,246.73 L394.20,246.77 L395.36,246.80 L396.51,246.84 L397.67,246.87 L398.83,246.91 L399.99,246.94 L401.15,246.98 L402.31,247.01 L403.47,247.04 L404.63,247.08 L405.79,247.11 L406.95,247.14 L408.11,247.17 L409.27,247.21 L410.43,247.24 L411.59,247.27 L412.75,247.30 L413.91,247.33 L415.07,247.36 L416.22,247.39 L417.38,247.42 L418.54,247.45 L419.70,247.48 L420.86,247.51 L422.02,247.54 L423.18,247.56 L424.34,247.59 L425.50,247.62 L426.66,247.65 L427.82,247.67 L428.98,247.70 L430.14,247.73 L431.30,247.75 L432.46,247.78 L433.62,247.81 L434.77,247.83 L435.93,247.86 L437.09,247.88 L438.25,247.91 L439.41,247.93 L440.57,247.96 L441.73,247.98 L442.89,248.01 L444.05,248.03 L445.21,248.06 L446.37,248.08 L447.53,248.10 L448.69,248.13 L449.85,248.15 L451.01,248.17 L452.16,248.19 L453.32,248.22 L454.48,248.24 L455.64,248.26 L456.80,248.28 L457.96,248.30 L459.12,248.33 L460.28,248.35 L461.44,248.37 L462.60,248.39 L463.76,248.41 L464.92,248.43 L466.08,248.45 L467.24,248.47 L468.40,248.49 L469.55,248.51 L470.71,248.53 L471.87,248.55 L473.03,248.57 L474.19,248.59 L475.35,248.61 L476.51,248.63 L477.67,248.64 L478.83,248.66 L479.99,248.68 L481.15,248.70 L482.31,248.72 L483.47,248.74 L484.63,248.75 L485.79,248.77 L486.94,248.79 L488.10,248.81 L489.26,248.82 L490.42,248.84 L491.58,248.86 L492.74,248.87 L493.90,248.89 L495.06,248.91 L496.22,248.92 L497.38,248.94 L498.54,248.96 L499.70,248.97 L500.86,248.99 L502.02,249.00 L503.18,249.02 L504.33,249.03 L505.49,249.05 L506.65,249.07 L507.81,249.08 L507.83,248.08 L506.67,248.07 L505.51,248.05 L504.35,248.03 L503.19,248.02 L502.03,248.00 L500.87,247.99 L499.71,247.97 L498.55,247.96 L497.39,247.94 L496.23,247.92 L495.07,247.91 L493.92,247.89 L492.76,247.87 L491.60,247.86 L490.44,247.84 L489.28,247.82 L488.12,247.81 L486.96,247.79 L485.80,247.77 L484.64,247.75 L483.48,247.74 L482.32,247.72 L481.16,247.70 L480.00,247.68 L478.85,247.66 L477.69,247.64 L476.53,247.63 L475.37,247.61 L474.21,247.59 L473.05,247.57 L471.89,247.55 L470.73,247.53 L469.57,247.51 L468.41,247.49 L467.25,247.47 L466.09,247.45 L464.94,247.43 L463.78,247.41 L462.62,247.39 L461.46,247.37 L460.30,247.35 L459.14,247.33 L457.98,247.30 L456.82,247.28 L455.66,247.26 L454.50,247.24 L453.34,247.22 L452.18,247.19 L451.03,247.17 L449.87,247.15 L448.71,247.13 L447.55,247.10 L446.39,247.08 L445.23,247.06 L444.07,247.03 L442.91,247.01 L441.75,246.98 L440.59,246.96 L439.43,246.93 L438.27,246.91 L437.11,246.88 L435.96,246.86 L434.80,246.83 L433.64,246.81 L432.48,246.78 L431.32,246.75 L430.16,246.73 L429.00,246.70 L427.84,246.67 L426.68,246.65 L425.52,246.62 L424.36,246.59 L423.21,246.56 L422.05,246.54 L420.89,246.51 L419.73,246.48 L418.57,246.45 L417.41,246.42 L416.25,246.39 L415.09,246.36 L413.93,246.33 L412.77,246.30 L411.61,246.27 L410.45,246.24 L409.30,246.21 L408.14,246.17 L406.98,246.14 L405.82,246.11 L404.66,246.08 L403.50,246.04 L402.34,246.01 L401.18,245.98 L400.02,245.94 L398.86,245.91 L397.70,245.87 L396.55,245.84 L395.39,245.80 L394.23,245.77 L393.07,245.73 L391.91,245.70 L390.75,245.66 L389.59,245.62 L388.43,245.59 L387.27,245.55 L386.11,245.51 L384.95,245.47 L383.79,245.43 L382.64,245.39 L381.48,245.35 L380.32,245.31 L379.16,245.27 L378.00,245.23 L376.84,245.19 L375.68,245.15 L374.52,245.11 L373.36,245.06 L372.20,245.02 L371.05,244.98 L369.89,244.93 L368.73,244.89 L367.57,244.84 L366.41,244.80 L365.25,244.75 L364.09,244.70 L362.93,244.66 L361.77,244.61 L360.61,244.56 L359.45,244.51 L358.30,244.46 L357.14,244.42 L355.98,244.37 L354.82,244.31 L353.66,244.26 L352.50,244.21 L351.34,244.16 L350.18,244.11 L349.02,244.05 L347.86,244.00 L346.71,243.95 L345.55,243.89 L344.39,243.83 L343.23,243.78 L342.07,243.72 L340.91,243.66 L339.75,243.60 L338.59,243.55 L337.43,243.49 L336.27,243.43 L335.12,243.37 L333.96,243.30 L332.80,243.24 L331.64,243.18 L330.48,243.11 L329.32,243.05 L328.16,242.98 L327.00,242.92 L325.84,242.85 L324.69,242.78 L323.53,242.72 L322.37,242.65 L321.21,242.58 L320.05,242.51 L318.89,242.43 L317.73,242.36 L316.57,242.29 L315.41,242.21 L314.25,242.14 L313.10,242.06 L311.94,241.99 L310.78,241.91 L309.62,241.83 L308.46,241.75 L307.30,241.67 L306.14,241.59 L304.98,241.50 L303.83,241.42 L302.67,241.34 L301.51,241.25 L300.35,241.16 L299.19,241.07 L298.03,240.99 L296.87,240.89 L295.71,240.80 L294.56,240.71 L293.40,240.62 L292.24,240.52 L291.08,240.43 L289.92,240.33 L288.76,240.23 L287.60,240.13 L286.44,240.03 L285.29,239.93 L284.13,239.82 L282.97,239.72 L281.81,239.61 L280.65,239.50 L279.49,239.39 L278.33,239.28 L277.17,239.17 L276.01,239.06 L274.86,238.95 L273.70,238.84 L272.54,238.72 L271.38,238.61 L270.22,238.49 L269.06,238.38 L267.90,238.26 L266.74,238.14 L265.58,238.03 L264.43,237.91 L263.27,237.79 L262.11,237.66 L260.95,237.54 L259.79,237.42 L258.63,237.29 L257.47,237.16 L256.32,237.03 L255.16,236.90 L254.00,236.77 L252.84,236.64 L251.68,236.50 L250.52,236.36 L249.36,236.22 L248.21,236.08 L247.05,235.93 L245.89,235.79 L244.73,235.64 L243.57,235.48 L242.42,235.33 L241.26,235.17 L240.10,235.01 L238.94,234.84 L237.78,234.68 L236.63,234.51 L235.47,234.33 L234.31,234.15 L233.15,233.97 L231.99,233.79 L230.84,233.60 L229.68,233.41 L228.52,233.21 L227.36,233.01 L226.21,232.81 L225.05,232.60 L223.89,232.39 L222.73,232.17 L221.58,231.95 L220.42,231.72 L219.26,231.49 L218.10,231.25 L216.95,231.01 L215.79,230.76 L214.63,230.51 L213.48,230.26 L212.32,230.00 L211.16,229.73 L210.00,229.46 L208.85,229.19 L207.69,228.91 L206.53,228.63 L205.37,228.34 L204.22,228.05 L203.06,227.75 L201.90,227.44 L200.75,227.13 L199.59,226.82 L198.43,226.50 L197.27,226.17 L196.12,225.84 L194.96,225.50 L193.81,225.15 L192.65,224.79 L191.50,224.42 L190.34,224.04 L189.18,223.65Z" fill="#b8b8b8" stroke="none" shape-rendering="crispEdges"/>
</g>
<!-- axes -->
<g fill="#000">
<rect x="44" y="8" width="1" height="252"/>
<rect x="44" y="259" width="472" height="1"/>
<rect x="38" y="16" width="6" height="1"/>
<rect x="38" y="94" width="6" height="1"/>
<rect x="38" y="172" width="6" height="1"/>
<rect x="38" y="251" width="6" height="1"/>
<rect x="52" y="260" width="1" height="6"/>
<rect x="143" y="260" width="1" height="6"/>
<rect x="234" y="260" width="1" height="6"/>
<rect x="325" y="260" width="1" height="6"/>
<rect x="416" y="260" width="1" height="6"/>
<rect x="507" y="260" width="1" height="6"/>
</g>
<!-- y tick labels -->
<g text-anchor="middle">
<text transform="translate(32.5,251.5) rotate(-90)">0</text>
<text transform="translate(32.5,172.7) rotate(-90)">20</text>
<text transform="translate(32.5,94.8) rotate(-90)">40</text>
<text transform="translate(32.5,17) rotate(-90)">60</text>
</g>
<text transform="translate(17.4,134.3) rotate(-90)" text-anchor="middle">Death rate per 100 person-years</text>
<!-- x tick labels -->
<g text-anchor="middle">
<text x="52.5" y="279.2">0</text>
<text x="143.5" y="279.2">100</text>
<text x="234.5" y="279.2">200</text>
<text x="325.5" y="279.2">300</text>
<text x="416.5" y="279.2">400</text>
<text x="507.5" y="279.2">500</text>
</g>
<text x="280.2" y="293.7" text-anchor="middle">CD4 cell count (per mm3)</text>
<!-- legend -->
<rect x="151.5" y="304.5" width="256" height="63" fill="none" stroke="#000" stroke-width="1"/>
<g fill="#000">
<rect x="156" y="316" width="17" height="2"/>
<rect x="174" y="316" width="5" height="2"/>
<rect x="180" y="316" width="5" height="2"/>
<rect x="186" y="316" width="5" height="2"/>
<rect x="192" y="316" width="5" height="2"/>
<rect x="198" y="316" width="11" height="2"/>
</g>
<g fill="#3c3c3c">
<rect x="288" y="316" width="11" height="2"/>
<rect x="300" y="316" width="5" height="2"/>
<rect x="306" y="316" width="5" height="2"/>
<rect x="312" y="316" width="5" height="2"/>
<rect x="318" y="316" width="5" height="2"/>
<rect x="324" y="316" width="10" height="2"/>
<rect x="335" y="316" width="5" height="2"/>
</g>
<rect x="156" y="335" width="53" height="2" fill="#000"/>
<rect x="288" y="335" width="53" height="2" fill="#333"/>
<rect x="156" y="354" width="53" height="2" fill="#777"/>
<rect x="289" y="354" width="52" height="1" fill="#b5b5b5"/>
<text x="216.5" y="321.6">5 years</text>
<text x="216.5" y="340.9">20 years</text>
<text x="216.5" y="359.7">40 years</text>
<text x="348.5" y="321.6">10 years</text>
<text x="348.5" y="340.9">30 years</text>
<text x="348.5" y="359.7">50 years</text>
</svg>
</body></html>
